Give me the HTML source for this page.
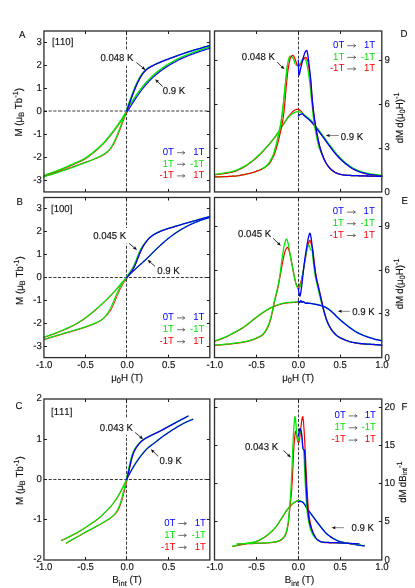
<!DOCTYPE html>
<html><head><meta charset="utf-8"><title>Magnetisation figure</title>
<style>
html,body{margin:0;padding:0;background:#fff;}
body{width:415px;height:588px;overflow:hidden;font-family:"Liberation Sans",sans-serif;}
svg{display:block;font-family:"Liberation Sans",sans-serif;text-rendering:geometricPrecision;will-change:transform;font-kerning:none;}
</style></head><body>
<svg width="415" height="588" viewBox="0 0 415 588">
<rect width="415" height="588" fill="#fff"/>
<path d="M126.50,32.10 V191.95" stroke="#383838" stroke-width="1" stroke-dasharray="3.05,1.67" fill="none"/>
<path d="M43.95,111.00 H209.85" stroke="#383838" stroke-width="1" stroke-dasharray="3.05,1.67" fill="none"/>
<rect x="99.50" y="49.80" width="37.00" height="15.7" fill="#fff"/>
<path d="M43.95,176.20 L44.77,175.89 L45.70,175.58 L46.64,175.27 L47.57,174.96 L48.50,174.65 L49.44,174.33 L50.37,174.01 L51.30,173.68 L52.24,173.36 L53.17,173.03 L54.10,172.69 L55.04,172.36 L55.97,172.02 L56.91,171.67 L57.84,171.32 L58.78,170.97 L59.71,170.62 L60.64,170.25 L61.58,169.88 L62.52,169.51 L63.45,169.13 L64.39,168.74 L65.32,168.34 L66.26,167.93 L67.19,167.52 L68.13,167.10 L69.06,166.68 L70.00,166.26 L70.93,165.83 L71.86,165.40 L72.79,164.97 L73.72,164.55 L74.65,164.13 L75.58,163.71 L76.51,163.30 L77.44,162.89 L78.37,162.49 L79.31,162.08 L80.24,161.66 L81.18,161.24 L82.13,160.79 L83.07,160.32 L84.02,159.82 L84.97,159.27 L85.91,158.69 L86.86,158.07 L87.80,157.41 L88.74,156.72 L89.68,156.01 L90.62,155.29 L91.55,154.56 L92.49,153.82 L93.42,153.08 L94.36,152.32 L95.29,151.55 L96.23,150.77 L97.17,149.97 L97.96,149.28 L98.10,149.15 L98.29,148.99 L98.62,148.70 L98.95,148.40 L99.04,148.32 L99.28,148.11 L99.60,147.81 L99.93,147.51 L99.98,147.46 L100.26,147.20 L100.59,146.89 L100.92,146.58 L101.25,146.27 L101.57,145.95 L101.85,145.68 L101.90,145.63 L102.23,145.31 L102.56,144.98 L102.79,144.74 L102.89,144.65 L103.22,144.31 L103.54,143.98 L103.73,143.78 L103.87,143.63 L104.20,143.29 L104.53,142.94 L104.67,142.79 L104.86,142.59 L105.19,142.24 L105.51,141.88 L105.61,141.77 L105.84,141.51 L106.17,141.15 L106.50,140.78 L106.55,140.72 L106.83,140.40 L107.15,140.03 L107.48,139.65 L107.48,139.65 L107.81,139.26 L108.14,138.87 L108.42,138.54 L108.47,138.48 L108.80,138.09 L109.12,137.69 L109.36,137.40 L109.45,137.29 L109.78,136.88 L110.11,136.47 L110.29,136.24 L110.43,136.06 L110.76,135.64 L111.09,135.23 L111.23,135.05 L111.42,134.81 L111.74,134.39 L112.07,133.96 L112.16,133.84 L112.40,133.54 L112.72,133.11 L113.05,132.68 L113.10,132.62 L113.38,132.25 L113.70,131.82 L114.03,131.39 L114.03,131.38 L114.36,130.95 L114.68,130.51 L114.96,130.14 L115.01,130.08 L115.34,129.64 L115.67,129.20 L115.90,128.88 L115.99,128.75 L116.32,128.31 L116.65,127.86 L116.83,127.60 L116.97,127.41 L117.30,126.95 L117.63,126.50 L117.77,126.30 L117.96,126.04 L118.28,125.57 L118.61,125.10 L118.70,124.97 L118.94,124.63 L119.27,124.16 L119.59,123.68 L119.64,123.61 L119.92,123.19 L120.25,122.71 L120.58,122.22 L120.58,122.21 L120.90,121.72 L121.23,121.22 L121.51,120.79 L121.56,120.72 L121.88,120.21 L122.21,119.70 L122.45,119.34 L122.54,119.19 L122.87,118.68 L123.19,118.16 L123.38,117.86 L123.52,117.64 L123.85,117.11 L124.17,116.59 L124.31,116.36 L124.50,116.06 L124.83,115.53 L125.15,115.00 L125.25,114.85 L125.48,114.46 L125.81,113.93 L126.13,113.40 L126.18,113.32 L126.46,112.86 L126.79,112.32 L127.11,111.79" fill="none" stroke="#ff0000" stroke-width="1.0" stroke-linejoin="round" stroke-linecap="round"/>
<path d="M43.95,175.44 L45.45,174.82 L47.31,174.20 L49.18,173.57 L51.04,172.93 L52.90,172.27 L54.77,171.60 L56.63,170.92 L58.49,170.22 L60.35,169.51 L62.22,168.77 L64.08,168.00 L65.94,167.20 L67.80,166.37 L69.66,165.53 L71.53,164.67 L73.39,163.82 L75.26,162.98 L77.12,162.16 L78.99,161.35 L80.85,160.51 L82.70,159.61 L84.56,158.58 L86.41,157.40 L88.27,156.08 L90.13,154.66 L91.99,153.20 L93.85,151.70 L95.71,150.16 L97.44,148.68 L97.57,148.55 L98.09,148.10 L98.74,147.51 L99.39,146.92 L99.43,146.87 L100.04,146.31 L100.69,145.69 L101.30,145.10 L101.34,145.06 L101.99,144.41 L102.64,143.75 L103.16,143.23 L103.29,143.08 L103.95,142.40 L104.60,141.69 L105.02,141.24 L105.25,140.98 L105.90,140.25 L106.55,139.50 L106.88,139.13 L107.20,138.75 L107.85,137.97 L108.50,137.18 L108.74,136.90 L109.15,136.38 L109.81,135.56 L110.46,134.73 L110.60,134.56 L111.11,133.90 L111.76,133.05 L112.41,132.20 L112.46,132.13 L113.07,131.34 L113.72,130.47 L114.32,129.66 L114.37,129.60 L115.02,128.72 L115.67,127.83 L116.19,127.13 L116.33,126.94 L116.98,126.03 L117.63,125.11 L118.05,124.51 L118.28,124.18 L118.93,123.23 L119.58,122.26 L119.91,121.77 L120.23,121.28 L120.89,120.28 L121.54,119.27 L121.77,118.91 L122.19,118.25 L122.84,117.21 L123.49,116.16 L123.63,115.94 L124.15,115.11 L124.80,114.05 L125.45,112.98 L125.50,112.90 L126.10,111.91 L126.41,110.63 L127.02,109.63 L127.07,109.55 L127.72,108.48 L128.37,107.41 L128.88,106.57 L129.02,106.35 L129.68,105.29 L130.33,104.23 L130.75,103.56 L130.99,103.19 L131.64,102.15 L132.29,101.13 L132.62,100.62 L132.95,100.11 L133.60,99.11 L134.25,98.12 L134.49,97.76 L134.91,97.13 L135.56,96.17 L136.22,95.21 L136.36,95.01 L136.87,94.27 L137.53,93.34 L138.18,92.43 L138.23,92.37 L138.84,91.53 L139.49,90.65 L140.10,89.84 L140.15,89.77 L140.80,88.92 L141.46,88.08 L141.97,87.43 L142.12,87.25 L142.77,86.43 L143.43,85.63 L143.85,85.13 L144.08,84.85 L144.74,84.08 L145.39,83.32 L145.72,82.94 L146.05,82.57 L146.71,81.84 L147.36,81.13 L147.60,80.87 L148.02,80.42 L148.68,79.74 L149.33,79.06 L149.48,78.92 L149.99,78.40 L150.65,77.75 L151.30,77.12 L151.35,77.08 L151.96,76.50 L152.62,75.90 L153.23,75.35 L153.28,75.30 L153.93,74.72 L154.59,74.15 L155.10,73.71 L155.25,73.59 L156.98,72.16 L158.86,70.68 L160.73,69.28 L162.61,67.94 L164.48,66.66 L166.35,65.43 L168.22,64.25 L170.10,63.11 L171.97,62.01 L173.85,60.96 L175.72,59.96 L177.59,59.01 L179.47,58.11 L181.34,57.24 L183.21,56.41 L185.08,55.60 L186.96,54.83 L188.83,54.08 L190.70,53.36 L192.57,52.66 L194.44,51.99 L196.30,51.33 L198.17,50.69 L200.04,50.05 L201.91,49.43 L203.77,48.83 L205.64,48.23 L207.51,47.65 L209.37,47.07" fill="none" stroke="#00e600" stroke-width="1.45" stroke-linejoin="round" stroke-linecap="round"/>
<path d="M127.24,111.87 L127.57,111.33 L127.89,110.79 L128.17,110.33 L128.22,110.26 L128.55,109.72 L128.87,109.18 L129.10,108.80 L129.20,108.65 L129.52,108.12 L129.85,107.58 L130.04,107.28 L130.17,107.05 L130.50,106.52 L130.83,106.00 L130.97,105.77 L131.15,105.47 L131.48,104.95 L131.80,104.42 L131.90,104.28 L132.13,103.91 L132.45,103.39 L132.78,102.87 L132.83,102.80 L133.10,102.36 L133.43,101.85 L133.76,101.35 L133.75,101.35 L134.08,100.84 L134.41,100.34 L134.68,99.92 L134.73,99.85 L135.06,99.35 L135.38,98.86 L135.61,98.51 L135.70,98.37 L136.03,97.89 L136.36,97.41 L136.54,97.13 L136.68,96.93 L137.00,96.45 L137.33,95.98 L137.47,95.78 L137.65,95.51 L137.98,95.05 L138.30,94.58 L138.40,94.45 L138.63,94.13 L138.95,93.67 L139.28,93.22 L139.32,93.16 L139.60,92.78 L139.93,92.33 L140.25,91.89 L140.25,91.89 L140.58,91.45 L140.90,91.02 L141.18,90.65 L141.22,90.59 L141.55,90.17 L141.87,89.74 L142.11,89.44 L142.20,89.33 L142.52,88.91 L142.85,88.50 L143.03,88.26 L143.17,88.09 L143.49,87.69 L143.82,87.28 L143.96,87.11 L144.14,86.89 L144.47,86.49 L144.79,86.10 L144.88,85.99 L145.11,85.72 L145.44,85.33 L145.76,84.95 L145.81,84.90 L146.09,84.58 L146.41,84.21 L146.74,83.84 L146.73,83.84 L147.06,83.47 L147.38,83.11 L147.66,82.80 L147.71,82.75 L148.03,82.40 L148.35,82.04 L148.59,81.79 L148.68,81.70 L149.00,81.35 L149.33,81.01 L149.51,80.82 L149.65,80.67 L149.97,80.34 L150.30,80.01 L150.43,79.87 L150.62,79.68 L150.94,79.36 L151.27,79.04 L151.36,78.95 L151.59,78.72 L151.91,78.41 L152.24,78.10 L152.28,78.06 L152.56,77.79 L152.88,77.49 L153.21,77.19 L153.20,77.19 L153.53,76.89 L153.85,76.60 L154.13,76.35 L154.17,76.31 L154.50,76.02 L154.82,75.74 L155.05,75.53 L155.14,75.46 L155.47,75.18 L155.79,74.90 L155.98,74.74 L156.11,74.63 L156.90,73.97 L157.83,73.21 L158.75,72.47 L159.68,71.75 L160.60,71.05 L161.53,70.37 L162.45,69.70 L163.38,69.05 L164.30,68.41 L165.23,67.78 L166.16,67.17 L167.08,66.57 L168.01,65.98 L168.94,65.40 L169.86,64.83 L170.79,64.27 L171.72,63.72 L172.64,63.18 L173.57,62.66 L174.49,62.15 L175.42,61.65 L176.34,61.16 L177.27,60.69 L178.19,60.22 L179.12,59.77 L180.05,59.33 L180.97,58.89 L181.90,58.47 L182.83,58.05 L183.75,57.64 L184.68,57.24 L185.61,56.85 L186.54,56.46 L187.46,56.08 L188.39,55.71 L189.32,55.34 L190.25,54.98 L191.18,54.62 L192.10,54.27 L193.03,53.93 L193.96,53.59 L194.89,53.26 L195.82,52.93 L196.75,52.60 L197.68,52.28 L198.61,51.96 L199.54,51.65 L200.47,51.33 L201.40,51.02 L202.33,50.72 L203.26,50.41 L204.19,50.11 L205.12,49.81 L206.05,49.52 L206.98,49.23 L207.91,48.94 L208.84,48.65 L209.77,48.36" fill="none" stroke="#0000ff" stroke-width="1.15" stroke-linejoin="round" stroke-linecap="round"/>
<path d="M43.95,176.43 L44.97,175.99 L46.46,175.56 L47.95,175.12 L49.44,174.67 L50.93,174.21 L52.42,173.75 L53.91,173.29 L55.40,172.81 L56.89,172.34 L58.38,171.85 L59.87,171.36 L61.35,170.87 L62.84,170.37 L64.33,169.86 L65.82,169.34 L67.31,168.82 L68.80,168.29 L70.29,167.75 L71.78,167.20 L73.27,166.65 L74.76,166.09 L76.25,165.53 L77.74,164.97 L79.23,164.41 L80.72,163.85 L82.21,163.29 L83.70,162.73 L85.20,162.19 L86.72,161.72 L88.25,161.24 L89.78,160.74 L91.31,160.22 L92.84,159.69 L94.37,159.13 L95.90,158.54 L97.44,157.94 L97.68,157.84 L98.36,157.56 L98.98,157.30 L99.03,157.27 L99.71,156.98 L100.38,156.68 L100.53,156.62 L101.06,156.38 L101.74,156.06 L102.08,155.89 L102.41,155.70 L103.06,155.32 L103.58,155.02 L103.73,154.93 L104.39,154.52 L105.04,154.09 L105.10,154.06 L105.71,153.64 L106.37,153.16 L106.62,152.97 L107.05,152.63 L107.71,152.08 L108.14,151.69 L108.39,151.46 L109.06,150.79 L109.67,150.12 L109.73,150.05 L110.39,149.26 L111.06,148.39 L111.21,148.18 L111.73,147.43 L112.39,146.40 L112.72,145.85 L113.05,145.28 L113.71,144.10 L114.23,143.12 L114.37,142.84 L115.03,141.52 L115.68,140.13 L115.73,140.02 L116.34,138.67 L116.99,137.16 L117.23,136.60 L117.65,135.59 L118.30,133.97 L118.72,132.90 L118.96,132.30 L119.61,130.60 L120.22,128.99 L120.26,128.87 L120.92,127.13 L121.57,125.39 L121.71,125.02 L122.22,123.66 L122.87,121.95 L123.20,121.11 L123.52,120.27 L124.18,118.61 L124.69,117.31 L124.83,116.95 L125.48,115.30 L126.13,113.64 L126.18,113.52 L126.79,111.95 L127.25,110.17 L127.49,109.54 L127.91,108.41 L128.56,106.62 L128.98,105.45 L129.21,104.80 L129.87,102.96 L130.47,101.25 L130.52,101.12 L131.17,99.28 L131.82,97.46 L131.96,97.08 L132.47,95.68 L133.13,93.93 L133.45,93.07 L133.78,92.23 L134.43,90.58 L134.94,89.32 L135.08,88.98 L135.73,87.43 L136.38,85.93 L136.43,85.83 L137.03,84.48 L137.68,83.08 L137.91,82.59 L138.33,81.74 L138.98,80.44 L139.40,79.64 L139.63,79.20 L140.28,78.02 L140.88,76.98 L140.93,76.91 L141.57,75.85 L142.22,74.86 L142.36,74.67 L142.87,73.95 L143.51,73.09 L143.83,72.70 L144.15,72.31 L144.80,71.59 L145.31,71.06 L145.44,70.93 L146.08,70.32 L146.73,69.76 L146.76,69.73 L147.36,69.25 L148.01,68.77 L148.24,68.61 L148.65,68.32 L149.30,67.90 L149.71,67.64 L149.94,67.50 L150.59,67.11 L151.19,66.77 L151.23,66.74 L151.89,66.39 L152.53,66.04 L152.67,65.97 L153.18,65.70 L153.83,65.37 L154.16,65.21 L154.48,65.05 L155.13,64.74 L155.64,64.50 L155.78,64.43 L157.13,63.82 L158.61,63.16 L160.10,62.52 L161.59,61.90 L163.08,61.30 L164.57,60.72 L166.06,60.14 L167.55,59.58 L169.04,59.02 L170.53,58.46 L172.02,57.92 L173.51,57.37 L175.00,56.83 L176.49,56.30" fill="none" stroke="#ff0000" stroke-width="1.0" stroke-linejoin="round" stroke-linecap="round"/>
<path d="M43.95,176.86 L45.47,176.32 L47.34,175.77 L49.20,175.21 L51.06,174.64 L52.93,174.07 L54.79,173.48 L56.65,172.88 L58.52,172.28 L60.38,171.67 L62.24,171.04 L64.11,170.41 L65.97,169.77 L67.83,169.11 L69.70,168.44 L71.56,167.76 L73.42,167.07 L75.29,166.37 L77.15,165.67 L79.01,164.97 L80.88,164.27 L82.74,163.57 L84.61,162.87 L86.47,162.17 L88.33,161.44 L90.19,160.70 L92.06,159.93 L93.92,159.12 L95.78,158.28 L97.50,157.47 L97.64,157.40 L98.15,157.15 L98.81,156.83 L99.46,156.50 L99.50,156.47 L100.11,156.16 L100.76,155.81 L101.36,155.48 L101.41,155.46 L102.06,155.09 L102.71,154.72 L103.22,154.42 L103.36,154.33 L104.01,153.93 L104.66,153.51 L105.08,153.23 L105.31,153.07 L105.96,152.59 L106.61,152.09 L106.93,151.82 L107.25,151.55 L107.90,150.95 L108.55,150.31 L108.78,150.06 L109.20,149.60 L109.85,148.82 L110.50,147.97 L110.63,147.78 L111.14,147.04 L111.79,146.03 L112.44,144.94 L112.49,144.86 L113.09,143.77 L113.74,142.53 L114.35,141.31 L114.39,141.22 L115.05,139.83 L115.70,138.39 L116.21,137.21 L116.35,136.89 L117.00,135.32 L117.65,133.71 L118.07,132.65 L118.30,132.05 L118.96,130.35 L119.61,128.62 L119.94,127.75 L120.26,126.88 L120.91,125.14 L121.57,123.41 L121.80,122.80 L122.22,121.70 L122.87,120.02 L123.52,118.35 L123.66,117.99 L124.18,116.70 L124.83,115.05 L125.48,113.39 L125.53,113.27 L126.13,111.70 L126.41,109.85 L127.02,108.22 L127.06,108.10 L127.71,106.31 L128.37,104.50 L128.88,103.06 L129.02,102.66 L129.67,100.82 L130.32,98.98 L130.74,97.81 L130.98,97.16 L131.63,95.37 L132.28,93.61 L132.61,92.75 L132.94,91.90 L133.59,90.24 L134.25,88.64 L134.48,88.07 L134.90,87.07 L135.56,85.57 L136.21,84.11 L136.35,83.80 L136.87,82.70 L137.52,81.34 L138.18,80.03 L138.23,79.93 L138.84,78.78 L139.50,77.58 L140.10,76.53 L140.16,76.44 L140.81,75.37 L141.48,74.36 L141.99,73.62 L142.14,73.41 L142.80,72.54 L143.47,71.73 L143.90,71.24 L144.14,70.97 L144.82,70.30 L145.51,69.70 L145.86,69.41 L146.21,69.14 L146.89,68.64 L147.57,68.17 L147.82,68.01 L148.26,67.74 L148.94,67.34 L149.61,66.96 L149.76,66.88 L150.29,66.60 L150.96,66.26 L151.64,65.93 L151.69,65.91 L152.31,65.61 L152.98,65.30 L153.60,65.03 L153.65,65.01 L154.32,64.72 L154.98,64.42 L155.49,64.18 L155.63,64.12 L157.36,63.33 L159.22,62.51 L161.08,61.73 L162.95,60.98 L164.81,60.25 L166.68,59.53 L168.54,58.83 L170.41,58.14 L172.27,57.45 L174.13,56.77 L176.00,56.10 L177.86,55.43 L179.73,54.76 L181.59,54.10 L183.45,53.45 L185.32,52.81 L187.18,52.18 L189.05,51.58 L190.91,50.99 L192.77,50.41 L194.64,49.85 L196.50,49.30 L198.37,48.75 L200.23,48.21 L202.09,47.68 L203.96,47.15 L205.82,46.63 L207.69,46.11 L209.55,45.60" fill="none" stroke="#00e600" stroke-width="1.2" stroke-linejoin="round" stroke-linecap="round"/>
<path d="M126.69,110.94 L127.02,110.08 L127.35,109.20 L127.63,108.45 L127.67,108.32 L128.00,107.43 L128.33,106.53 L128.56,105.89 L128.65,105.63 L128.98,104.72 L129.30,103.80 L129.49,103.27 L129.63,102.88 L129.96,101.96 L130.28,101.03 L130.42,100.64 L130.61,100.11 L130.93,99.20 L131.26,98.28 L131.35,98.03 L131.59,97.38 L131.91,96.48 L132.24,95.59 L132.29,95.46 L132.57,94.71 L132.89,93.84 L133.22,92.98 L133.22,92.99 L133.54,92.14 L133.87,91.31 L134.15,90.60 L134.20,90.49 L134.52,89.68 L134.85,88.88 L135.08,88.32 L135.17,88.10 L135.50,87.33 L135.83,86.57 L136.01,86.15 L136.15,85.83 L136.48,85.10 L136.80,84.38 L136.94,84.07 L137.13,83.67 L137.46,82.97 L137.78,82.29 L137.87,82.10 L138.11,81.62 L138.43,80.97 L138.76,80.33 L138.81,80.24 L139.08,79.70 L139.41,79.08 L139.74,78.48 L139.74,78.48 L140.06,77.90 L140.39,77.33 L140.67,76.86 L140.71,76.78 L141.04,76.24 L141.36,75.72 L141.60,75.36 L141.69,75.21 L142.01,74.73 L142.34,74.25 L142.53,73.99 L142.66,73.80 L142.99,73.36 L143.32,72.94 L143.45,72.77 L143.64,72.54 L143.97,72.15 L144.29,71.78 L144.38,71.67 L144.61,71.42 L144.94,71.08 L145.26,70.75 L145.31,70.70 L145.59,70.44 L145.91,70.14 L146.24,69.85 L146.24,69.85 L146.56,69.57 L146.89,69.31 L147.17,69.09 L147.21,69.05 L147.54,68.81 L147.86,68.57 L148.09,68.40 L148.19,68.34 L148.51,68.12 L148.84,67.90 L149.02,67.78 L149.16,67.69 L149.49,67.48 L149.81,67.28 L149.95,67.20 L150.14,67.09 L150.46,66.90 L150.79,66.71 L150.88,66.66 L151.11,66.53 L151.44,66.34 L151.77,66.17 L151.81,66.14 L152.09,65.99 L152.42,65.82 L152.74,65.65 L152.74,65.65 L153.07,65.48 L153.39,65.31 L153.67,65.17 L153.72,65.15 L154.05,64.99 L154.37,64.83 L154.60,64.72 L154.70,64.67 L155.02,64.52 L155.35,64.36 L155.54,64.27 L155.67,64.21 L156.47,63.84 L157.40,63.42 L158.33,63.01 L159.26,62.61 L160.19,62.21 L161.12,61.83 L162.05,61.45 L162.99,61.07 L163.92,60.70 L164.85,60.34 L165.78,59.98 L166.71,59.62 L167.64,59.27 L168.58,58.92 L169.51,58.57 L170.44,58.23 L171.37,57.89 L172.30,57.55 L173.24,57.21 L174.17,56.87 L175.10,56.53 L176.03,56.20 L176.96,55.86 L177.90,55.52 L178.83,55.19 L179.76,54.86 L180.69,54.52 L181.62,54.19 L182.55,53.87 L183.49,53.54 L184.42,53.22 L185.35,52.90 L186.28,52.59 L187.21,52.28 L188.14,51.97 L189.08,51.67 L190.01,51.38 L190.94,51.08 L191.87,50.80 L192.80,50.51 L193.73,50.23 L194.67,49.95 L195.60,49.67 L196.53,49.39 L197.46,49.12 L198.39,48.85 L199.33,48.58 L200.26,48.31 L201.19,48.04 L202.12,47.77 L203.05,47.51 L203.98,47.24 L204.92,46.98 L205.85,46.72 L206.78,46.46 L207.71,46.21 L208.64,45.95 L209.58,45.70" fill="none" stroke="#0000ff" stroke-width="1.3" stroke-linejoin="round" stroke-linecap="round"/>
<path d="M126.50,198.60 V357.60" stroke="#383838" stroke-width="1" stroke-dasharray="3.05,1.67" fill="none"/>
<path d="M43.95,277.50 H209.85" stroke="#383838" stroke-width="1" stroke-dasharray="3.05,1.67" fill="none"/>
<rect x="92.20" y="227.90" width="37.00" height="15.7" fill="#fff"/>
<path d="M43.95,337.53 L44.67,337.24 L45.61,336.94 L46.54,336.64 L47.47,336.34 L48.41,336.03 L49.34,335.71 L50.27,335.39 L51.21,335.06 L52.14,334.73 L53.07,334.40 L54.01,334.06 L54.94,333.71 L55.87,333.35 L56.81,332.99 L57.74,332.63 L58.67,332.25 L59.61,331.87 L60.54,331.49 L61.47,331.10 L62.41,330.70 L63.34,330.31 L64.27,329.91 L65.21,329.50 L66.14,329.10 L67.07,328.69 L68.01,328.27 L68.94,327.85 L69.87,327.42 L70.81,326.98 L71.74,326.53 L72.68,326.07 L73.61,325.59 L74.55,325.10 L75.48,324.60 L76.42,324.08 L77.35,323.55 L78.29,323.00 L79.22,322.43 L80.16,321.85 L81.09,321.26 L82.03,320.65 L82.96,320.03 L83.90,319.39 L84.83,318.74 L85.77,318.07 L86.70,317.38 L87.64,316.67 L88.57,315.95 L89.51,315.21 L90.44,314.46 L91.37,313.71 L92.31,312.94 L93.24,312.17 L94.17,311.39 L95.11,310.60 L96.04,309.81 L96.97,309.00 L97.76,308.31 L97.91,308.19 L98.09,308.02 L98.42,307.74 L98.75,307.45 L98.84,307.36 L99.07,307.15 L99.40,306.86 L99.73,306.57 L99.77,306.53 L100.05,306.27 L100.38,305.98 L100.71,305.68 L101.03,305.38 L101.36,305.08 L101.64,304.82 L101.69,304.78 L102.01,304.48 L102.34,304.17 L102.57,303.95 L102.67,303.87 L102.99,303.56 L103.32,303.25 L103.51,303.08 L103.65,302.95 L103.97,302.64 L104.30,302.32 L104.44,302.19 L104.63,302.01 L104.95,301.70 L105.28,301.38 L105.37,301.29 L105.61,301.07 L105.93,300.75 L106.26,300.43 L106.31,300.39 L106.59,300.11 L106.91,299.79 L107.24,299.47 L107.24,299.47 L107.57,299.14 L107.89,298.82 L108.17,298.54 L108.22,298.49 L108.55,298.16 L108.87,297.84 L109.11,297.60 L109.20,297.50 L109.53,297.17 L109.85,296.84 L110.04,296.65 L110.18,296.50 L110.51,296.17 L110.83,295.83 L110.97,295.68 L111.16,295.49 L111.49,295.15 L111.81,294.80 L111.91,294.70 L112.14,294.46 L112.47,294.11 L112.79,293.76 L112.84,293.71 L113.12,293.41 L113.45,293.06 L113.77,292.71 L113.77,292.71 L114.10,292.35 L114.43,291.99 L114.71,291.68 L114.75,291.63 L115.08,291.26 L115.41,290.89 L115.64,290.63 L115.73,290.52 L116.06,290.15 L116.39,289.78 L116.57,289.56 L116.71,289.40 L117.04,289.02 L117.37,288.64 L117.51,288.47 L117.69,288.25 L118.02,287.87 L118.35,287.49 L118.44,287.38 L118.67,287.10 L119.00,286.71 L119.33,286.33 L119.37,286.27 L119.65,285.94 L119.98,285.56 L120.30,285.17 L120.30,285.17 L120.63,284.79 L120.96,284.41 L121.24,284.08 L121.28,284.03 L121.61,283.65 L121.93,283.27 L122.17,283.00 L122.26,282.89 L122.59,282.51 L122.91,282.14 L123.10,281.92 L123.24,281.77 L123.56,281.39 L123.89,281.02 L124.03,280.86 L124.21,280.65 L124.54,280.29 L124.87,279.92 L124.96,279.82 L125.19,279.56 L125.52,279.20 L125.84,278.84 L125.89,278.79 L126.17,278.49 L126.49,278.14 L126.82,277.79" fill="none" stroke="#ff0000" stroke-width="1.0" stroke-linejoin="round" stroke-linecap="round"/>
<path d="M43.95,337.05 L45.45,336.47 L47.32,335.86 L49.18,335.24 L51.04,334.59 L52.90,333.93 L54.76,333.24 L56.63,332.53 L58.49,331.79 L60.35,331.03 L62.21,330.24 L64.08,329.45 L65.94,328.64 L67.80,327.81 L69.66,326.96 L71.52,326.08 L73.38,325.15 L75.24,324.16 L77.10,323.11 L78.96,322.00 L80.82,320.84 L82.68,319.61 L84.54,318.33 L86.40,316.98 L88.26,315.55 L90.13,314.07 L91.99,312.55 L93.85,311.01 L95.71,309.43 L97.44,307.93 L97.58,307.81 L98.09,307.36 L98.74,306.78 L99.39,306.20 L99.44,306.15 L100.04,305.61 L100.69,305.01 L101.30,304.45 L101.35,304.41 L102.00,303.81 L102.65,303.20 L103.16,302.71 L103.30,302.58 L103.95,301.96 L104.61,301.34 L105.02,300.93 L105.26,300.71 L105.91,300.07 L106.56,299.44 L106.89,299.11 L107.21,298.79 L107.86,298.14 L108.52,297.48 L108.75,297.25 L109.17,296.82 L109.82,296.15 L110.47,295.48 L110.61,295.34 L111.12,294.80 L111.78,294.11 L112.43,293.42 L112.47,293.37 L113.08,292.72 L113.73,292.01 L114.34,291.34 L114.38,291.29 L115.03,290.56 L115.68,289.82 L116.20,289.23 L116.34,289.07 L116.99,288.31 L117.64,287.55 L118.06,287.05 L118.29,286.78 L118.94,286.01 L119.60,285.23 L119.92,284.85 L120.25,284.47 L120.90,283.70 L121.56,282.94 L121.79,282.67 L122.21,282.19 L122.86,281.44 L123.51,280.69 L123.65,280.53 L124.17,279.95 L124.82,279.22 L125.47,278.51 L125.52,278.45 L126.13,277.80 L126.85,277.18 L127.46,276.55 L127.51,276.50 L128.16,275.83 L128.81,275.17 L129.33,274.66 L129.47,274.52 L130.12,273.88 L130.77,273.25 L131.19,272.85 L131.42,272.62 L132.08,272.00 L132.73,271.38 L133.06,271.08 L133.38,270.77 L134.03,270.16 L134.69,269.55 L134.92,269.33 L135.34,268.94 L135.99,268.33 L136.64,267.73 L136.78,267.60 L137.30,267.13 L137.95,266.54 L138.60,265.95 L138.65,265.91 L139.26,265.36 L139.91,264.78 L140.51,264.24 L140.56,264.20 L141.21,263.61 L141.87,263.03 L142.38,262.58 L142.52,262.45 L143.17,261.87 L143.82,261.28 L144.24,260.89 L144.47,260.68 L145.13,260.08 L145.78,259.47 L146.10,259.17 L146.43,258.86 L147.08,258.23 L147.73,257.60 L147.97,257.37 L148.39,256.96 L149.04,256.31 L149.69,255.66 L149.83,255.52 L150.34,255.01 L150.99,254.35 L151.65,253.69 L151.69,253.64 L152.30,253.03 L152.95,252.37 L153.56,251.76 L153.60,251.71 L154.26,251.07 L154.91,250.42 L155.42,249.92 L155.56,249.78 L157.29,248.13 L159.15,246.37 L161.02,244.64 L162.88,242.95 L164.75,241.31 L166.61,239.74 L168.48,238.24 L170.34,236.78 L172.21,235.37 L174.08,234.02 L175.94,232.73 L177.81,231.50 L179.67,230.32 L181.54,229.19 L183.40,228.11 L185.27,227.08 L187.14,226.10 L189.00,225.17 L190.87,224.28 L192.73,223.43 L194.60,222.62 L196.46,221.87 L198.33,221.15 L200.20,220.47 L202.06,219.81 L203.93,219.19 L205.79,218.60 L207.66,218.05 L209.52,217.53" fill="none" stroke="#00e600" stroke-width="1.15" stroke-linejoin="round" stroke-linecap="round"/>
<path d="M126.60,277.59 L126.93,277.24 L127.25,276.90 L127.53,276.61 L127.58,276.57 L127.90,276.23 L128.23,275.90 L128.46,275.66 L128.56,275.57 L128.88,275.24 L129.21,274.92 L129.40,274.73 L129.54,274.60 L129.86,274.28 L130.19,273.96 L130.33,273.82 L130.51,273.64 L130.84,273.32 L131.17,273.01 L131.26,272.92 L131.49,272.70 L131.82,272.39 L132.15,272.08 L132.19,272.03 L132.47,271.77 L132.80,271.46 L133.12,271.15 L133.12,271.15 L133.45,270.84 L133.78,270.54 L134.06,270.27 L134.10,270.23 L134.43,269.93 L134.76,269.62 L134.99,269.40 L135.08,269.32 L135.41,269.01 L135.73,268.71 L135.92,268.54 L136.06,268.41 L136.39,268.11 L136.71,267.81 L136.85,267.68 L137.04,267.51 L137.36,267.21 L137.69,266.91 L137.78,266.82 L138.02,266.61 L138.34,266.32 L138.67,266.02 L138.72,265.98 L139.00,265.73 L139.32,265.44 L139.65,265.14 L139.65,265.14 L139.97,264.85 L140.30,264.56 L140.58,264.31 L140.63,264.27 L140.95,263.98 L141.28,263.69 L141.51,263.48 L141.61,263.40 L141.93,263.11 L142.26,262.82 L142.44,262.65 L142.58,262.53 L142.91,262.23 L143.24,261.94 L143.38,261.81 L143.56,261.65 L143.89,261.35 L144.22,261.05 L144.31,260.97 L144.54,260.76 L144.87,260.46 L145.19,260.15 L145.24,260.11 L145.52,259.85 L145.85,259.55 L146.17,259.24 L146.17,259.24 L146.50,258.93 L146.82,258.62 L147.10,258.35 L147.15,258.31 L147.48,257.99 L147.80,257.67 L148.04,257.44 L148.13,257.35 L148.46,257.03 L148.78,256.71 L148.97,256.52 L149.11,256.39 L149.43,256.06 L149.76,255.73 L149.90,255.59 L150.09,255.40 L150.41,255.08 L150.74,254.75 L150.83,254.65 L151.07,254.42 L151.39,254.09 L151.72,253.76 L151.76,253.71 L152.04,253.43 L152.37,253.10 L152.70,252.77 L152.70,252.77 L153.02,252.44 L153.35,252.11 L153.63,251.83 L153.68,251.79 L154.00,251.46 L154.33,251.14 L154.56,250.91 L154.65,250.81 L154.98,250.49 L155.31,250.17 L155.49,249.99 L155.63,249.86 L156.42,249.09 L157.36,248.20 L158.29,247.32 L159.22,246.44 L160.15,245.57 L161.08,244.71 L162.02,243.86 L162.95,243.02 L163.88,242.20 L164.81,241.39 L165.74,240.60 L166.68,239.82 L167.61,239.06 L168.54,238.31 L169.47,237.58 L170.41,236.86 L171.34,236.15 L172.27,235.45 L173.20,234.77 L174.13,234.10 L175.07,233.45 L176.00,232.81 L176.93,232.19 L177.86,231.58 L178.79,230.98 L179.73,230.40 L180.66,229.83 L181.59,229.27 L182.52,228.73 L183.45,228.19 L184.39,227.67 L185.32,227.17 L186.25,226.67 L187.18,226.19 L188.11,225.72 L189.05,225.26 L189.98,224.81 L190.91,224.37 L191.84,223.94 L192.77,223.52 L193.71,223.11 L194.64,222.72 L195.57,222.33 L196.50,221.96 L197.43,221.60 L198.37,221.25 L199.30,220.90 L200.23,220.56 L201.16,220.23 L202.09,219.91 L203.03,219.59 L203.96,219.28 L204.89,218.99 L205.82,218.70 L206.75,218.42 L207.69,218.15 L208.62,217.88 L209.55,217.63" fill="none" stroke="#0000ff" stroke-width="1.15" stroke-linejoin="round" stroke-linecap="round"/>
<path d="M43.95,339.82 L45.23,339.36 L46.72,338.91 L48.21,338.46 L49.70,338.01 L51.19,337.55 L52.68,337.10 L54.18,336.65 L55.67,336.20 L57.16,335.75 L58.65,335.30 L60.14,334.85 L61.63,334.40 L63.12,333.95 L64.61,333.50 L66.10,333.06 L67.59,332.61 L69.08,332.18 L70.57,331.75 L72.07,331.33 L73.56,330.91 L75.05,330.48 L76.54,330.06 L78.03,329.62 L79.53,329.17 L81.02,328.70 L82.51,328.22 L84.01,327.73 L85.50,327.23 L87.00,326.71 L88.49,326.18 L89.98,325.63 L91.48,325.06 L92.97,324.48 L94.47,323.86 L95.96,323.22 L97.46,322.54 L97.70,322.42 L98.36,322.09 L98.97,321.78 L99.02,321.75 L99.67,321.38 L100.33,320.99 L100.48,320.90 L101.00,320.57 L101.65,320.11 L101.99,319.87 L102.32,319.61 L102.98,319.08 L103.50,318.63 L103.65,318.50 L104.36,317.92 L105.06,317.29 L105.12,317.23 L105.78,316.60 L106.50,315.86 L106.76,315.57 L107.22,315.05 L107.94,314.20 L108.40,313.61 L108.67,313.27 L109.39,312.28 L110.05,311.30 L110.12,311.20 L110.84,310.06 L111.50,308.81 L111.65,308.52 L112.17,307.46 L112.83,306.05 L113.16,305.31 L113.49,304.55 L114.15,303.01 L114.66,301.77 L114.80,301.43 L115.46,299.83 L116.11,298.25 L116.15,298.15 L116.75,296.72 L117.40,295.23 L117.63,294.71 L118.05,293.79 L118.70,292.40 L119.11,291.53 L119.34,291.05 L119.99,289.74 L120.59,288.55 L120.64,288.47 L121.29,287.22 L121.93,286.01 L122.07,285.77 L122.58,284.86 L123.22,283.75 L123.54,283.22 L123.85,282.72 L124.49,281.75 L124.99,281.05 L125.11,280.89 L125.75,280.06 L126.39,279.28 L126.43,279.24 L127.03,278.53 L127.19,277.35 L127.43,277.07 L127.85,276.58 L128.50,275.79 L128.92,275.27 L129.16,274.97 L129.81,274.13 L130.42,273.32 L130.47,273.25 L131.13,272.34 L131.78,271.39 L131.93,271.17 L132.44,270.37 L133.10,269.30 L133.43,268.73 L133.76,268.14 L134.41,266.90 L134.93,265.84 L135.07,265.53 L135.73,264.06 L136.38,262.48 L136.43,262.36 L137.04,260.82 L137.69,259.13 L137.92,258.52 L138.34,257.43 L139.00,255.76 L139.41,254.71 L139.65,254.13 L140.30,252.57 L140.90,251.19 L140.94,251.09 L141.60,249.69 L142.24,248.37 L142.38,248.11 L142.89,247.17 L143.54,246.04 L143.86,245.51 L144.18,245.00 L144.83,244.02 L145.34,243.29 L145.48,243.10 L146.13,242.22 L146.78,241.37 L146.82,241.32 L147.42,240.57 L148.07,239.80 L148.30,239.54 L148.71,239.08 L149.36,238.39 L149.77,237.98 L150.00,237.77 L150.64,237.19 L151.24,236.69 L151.28,236.66 L151.93,236.16 L152.57,235.70 L152.70,235.61 L153.21,235.27 L153.86,234.87 L154.18,234.67 L154.50,234.48 L155.15,234.12 L155.66,233.84 L155.79,233.76 L157.14,233.07 L158.62,232.35 L160.11,231.69 L161.59,231.07 L163.07,230.49 L164.56,229.94 L166.04,229.43 L167.53,228.95 L169.01,228.50 L170.50,228.06 L171.99,227.63 L173.48,227.20 L174.98,226.76 L176.47,226.32" fill="none" stroke="#ff0000" stroke-width="1.0" stroke-linejoin="round" stroke-linecap="round"/>
<path d="M43.95,339.39 L45.47,338.82 L47.33,338.25 L49.20,337.69 L51.06,337.12 L52.93,336.56 L54.79,335.99 L56.65,335.43 L58.52,334.87 L60.38,334.30 L62.25,333.74 L64.11,333.18 L65.98,332.62 L67.84,332.07 L69.71,331.53 L71.57,331.00 L73.43,330.47 L75.30,329.95 L77.16,329.41 L79.02,328.85 L80.89,328.27 L82.75,327.67 L84.61,327.05 L86.47,326.41 L88.34,325.75 L90.20,325.07 L92.06,324.35 L93.92,323.60 L95.78,322.81 L97.50,322.02 L97.64,321.95 L98.15,321.69 L98.80,321.35 L99.45,320.99 L99.49,320.97 L100.10,320.61 L100.75,320.19 L101.35,319.78 L101.39,319.75 L102.04,319.26 L102.69,318.73 L103.20,318.29 L103.34,318.16 L103.99,317.54 L104.64,316.88 L105.05,316.42 L105.28,316.16 L105.93,315.39 L106.58,314.57 L106.91,314.14 L107.23,313.69 L107.88,312.75 L108.53,311.74 L108.76,311.37 L109.18,310.67 L109.83,309.51 L110.48,308.28 L110.62,308.01 L111.13,306.97 L111.78,305.57 L112.44,304.10 L112.48,303.99 L113.09,302.57 L113.74,300.99 L114.34,299.51 L114.39,299.40 L115.04,297.82 L115.70,296.27 L116.21,295.08 L116.35,294.76 L117.00,293.31 L117.66,291.91 L118.08,291.03 L118.31,290.55 L118.96,289.22 L119.62,287.94 L119.94,287.31 L120.27,286.68 L120.92,285.47 L121.58,284.29 L121.81,283.88 L122.23,283.16 L122.89,282.10 L123.54,281.11 L123.68,280.90 L124.20,280.19 L124.85,279.34 L125.51,278.55 L125.55,278.49 L126.16,277.78 L126.32,276.60 L126.92,275.89 L126.96,275.84 L127.61,275.06 L128.26,274.26 L128.76,273.61 L128.90,273.44 L129.54,272.57 L130.19,271.68 L130.60,271.08 L130.82,270.75 L131.47,269.76 L132.11,268.71 L132.43,268.17 L132.75,267.60 L133.39,266.38 L134.03,265.04 L134.26,264.55 L134.67,263.61 L135.32,262.05 L135.97,260.40 L136.11,260.05 L136.62,258.71 L137.27,257.01 L137.92,255.34 L137.97,255.21 L138.58,253.70 L139.24,252.12 L139.85,250.73 L139.90,250.61 L140.63,249.22 L141.37,247.93 L141.95,246.99 L142.11,246.73 L142.85,245.63 L143.58,244.62 L144.06,244.00 L144.32,243.67 L145.05,242.79 L145.77,241.95 L146.14,241.55 L146.50,241.16 L147.15,240.35 L147.80,239.57 L148.04,239.31 L148.46,238.84 L149.11,238.15 L149.76,237.51 L149.90,237.38 L150.41,236.92 L151.07,236.38 L151.72,235.88 L151.76,235.84 L152.37,235.41 L153.02,234.98 L153.63,234.60 L153.68,234.57 L154.33,234.18 L154.98,233.81 L155.49,233.53 L155.63,233.45 L157.36,232.57 L159.22,231.69 L161.08,230.89 L162.95,230.16 L164.81,229.48 L166.68,228.86 L168.54,228.28 L170.41,227.72 L172.27,227.18 L174.13,226.65 L176.00,226.10 L177.86,225.54 L179.73,224.98 L181.59,224.43 L183.45,223.87 L185.32,223.32 L187.18,222.78 L189.05,222.24 L190.91,221.72 L192.77,221.19 L194.64,220.68 L196.50,220.16 L198.37,219.64 L200.23,219.12 L202.09,218.60 L203.96,218.07 L205.82,217.54 L207.69,217.01 L209.55,216.48" fill="none" stroke="#00e600" stroke-width="1.2" stroke-linejoin="round" stroke-linecap="round"/>
<path d="M126.68,277.56 L127.00,277.18 L127.33,276.80 L127.61,276.47 L127.66,276.41 L127.98,276.02 L128.31,275.63 L128.54,275.34 L128.64,275.23 L128.96,274.82 L129.29,274.40 L129.48,274.16 L129.62,273.98 L129.94,273.55 L130.27,273.11 L130.41,272.92 L130.60,272.66 L130.92,272.20 L131.25,271.73 L131.34,271.59 L131.58,271.25 L131.90,270.75 L132.23,270.24 L132.28,270.17 L132.56,269.72 L132.88,269.17 L133.21,268.61 L133.21,268.61 L133.54,268.03 L133.87,267.42 L134.15,266.88 L134.19,266.78 L134.52,266.12 L134.85,265.43 L135.08,264.92 L135.17,264.71 L135.50,263.96 L135.83,263.19 L136.01,262.73 L136.15,262.39 L136.48,261.57 L136.81,260.73 L136.95,260.37 L137.13,259.89 L137.46,259.04 L137.78,258.19 L137.88,257.94 L138.11,257.34 L138.44,256.50 L138.76,255.66 L138.81,255.55 L139.09,254.84 L139.41,254.04 L139.74,253.25 L139.74,253.25 L140.07,252.47 L140.39,251.72 L140.67,251.09 L140.72,250.98 L141.04,250.27 L141.37,249.58 L141.60,249.10 L141.69,248.91 L142.02,248.26 L142.35,247.64 L142.53,247.30 L142.67,247.05 L143.00,246.47 L143.32,245.91 L143.46,245.68 L143.65,245.38 L143.97,244.86 L144.30,244.36 L144.39,244.23 L144.62,243.88 L144.95,243.41 L145.28,242.95 L145.32,242.89 L145.60,242.50 L145.93,242.07 L146.25,241.64 L146.25,241.64 L146.58,241.22 L146.90,240.81 L147.18,240.47 L147.23,240.41 L147.55,240.02 L147.88,239.64 L148.11,239.37 L148.20,239.27 L148.53,238.91 L148.85,238.56 L149.04,238.36 L149.18,238.22 L149.50,237.90 L149.83,237.58 L149.97,237.46 L150.15,237.29 L150.48,237.00 L150.80,236.72 L150.90,236.65 L151.13,236.46 L151.45,236.20 L151.78,235.96 L151.82,235.93 L152.10,235.72 L152.43,235.50 L152.75,235.28 L152.75,235.28 L153.08,235.06 L153.40,234.86 L153.68,234.68 L153.73,234.65 L154.05,234.46 L154.38,234.27 L154.61,234.13 L154.70,234.08 L155.03,233.90 L155.35,233.72 L155.54,233.62 L155.68,233.54 L156.47,233.13 L157.40,232.66 L158.33,232.21 L159.26,231.79 L160.19,231.38 L161.12,230.99 L162.05,230.61 L162.98,230.25 L163.92,229.91 L164.85,229.58 L165.78,229.26 L166.71,228.95 L167.64,228.66 L168.57,228.37 L169.50,228.09 L170.43,227.82 L171.36,227.55 L172.30,227.28 L173.23,227.01 L174.16,226.74 L175.09,226.47 L176.03,226.19 L176.96,225.92 L177.89,225.64 L178.82,225.36 L179.75,225.08 L180.69,224.80 L181.62,224.52 L182.55,224.24 L183.48,223.97 L184.41,223.69 L185.35,223.42 L186.28,223.15 L187.21,222.88 L188.14,222.61 L189.07,222.34 L190.00,222.07 L190.94,221.81 L191.87,221.55 L192.80,221.29 L193.73,221.03 L194.66,220.77 L195.60,220.51 L196.53,220.26 L197.46,220.00 L198.39,219.74 L199.32,219.48 L200.26,219.22 L201.19,218.95 L202.12,218.69 L203.05,218.43 L203.99,218.17 L204.92,217.90 L205.85,217.64 L206.78,217.37 L207.71,217.11 L208.65,216.84 L209.58,216.58" fill="none" stroke="#0000ff" stroke-width="1.3" stroke-linejoin="round" stroke-linecap="round"/>
<path d="M126.50,400.10 V560.00" stroke="#383838" stroke-width="1" stroke-dasharray="3.05,1.67" fill="none"/>
<path d="M43.95,479.50 H209.85" stroke="#383838" stroke-width="1" stroke-dasharray="3.05,1.67" fill="none"/>
<rect x="99.60" y="419.20" width="37.00" height="15.7" fill="#fff"/>
<path d="M61.54,540.63 L62.27,540.32 L63.01,540.00 L63.74,539.68 L64.47,539.36 L65.21,539.03 L65.94,538.69 L66.67,538.35 L67.41,538.01 L68.14,537.65 L68.87,537.30 L69.61,536.93 L70.34,536.57 L71.07,536.19 L71.81,535.82 L72.54,535.44 L73.27,535.05 L74.01,534.66 L74.74,534.26 L75.47,533.87 L76.21,533.46 L76.94,533.06 L77.67,532.65 L78.40,532.23 L79.14,531.81 L79.87,531.38 L80.61,530.95 L81.34,530.50 L82.07,530.05 L82.81,529.59 L83.54,529.12 L84.27,528.65 L85.01,528.17 L85.74,527.68 L86.47,527.19 L87.21,526.70 L87.94,526.20 L88.67,525.70 L89.40,525.20 L90.14,524.70 L90.87,524.20 L91.60,523.71 L92.33,523.21 L93.06,522.71 L93.80,522.21 L94.53,521.71 L95.26,521.20 L96.00,520.69 L96.73,520.16 L97.46,519.62 L97.72,519.43 L98.05,519.18 L98.20,519.06 L98.37,518.92 L98.70,518.66 L98.94,518.48 L99.03,518.40 L99.36,518.13 L99.67,517.87 L99.69,517.85 L100.01,517.57 L100.34,517.29 L100.41,517.23 L100.67,516.99 L101.00,516.69 L101.15,516.56 L101.33,516.39 L101.65,516.08 L101.88,515.86 L101.98,515.77 L102.31,515.45 L102.62,515.15 L102.64,515.13 L102.96,514.81 L103.29,514.49 L103.35,514.43 L103.61,514.17 L103.94,513.85 L104.08,513.71 L104.27,513.53 L104.59,513.21 L104.81,512.99 L104.92,512.89 L105.25,512.57 L105.54,512.28 L105.57,512.25 L105.90,511.93 L106.22,511.61 L106.28,511.56 L106.55,511.29 L106.88,510.96 L107.01,510.83 L107.20,510.64 L107.53,510.31 L107.74,510.09 L107.86,509.98 L108.18,509.64 L108.48,509.34 L108.51,509.31 L108.84,508.97 L109.17,508.62 L109.21,508.58 L109.49,508.27 L109.82,507.92 L109.95,507.78 L110.15,507.56 L110.48,507.20 L110.68,506.97 L110.80,506.83 L111.13,506.45 L111.42,506.12 L111.46,506.07 L111.79,505.68 L112.11,505.28 L112.15,505.24 L112.44,504.88 L112.77,504.47 L112.89,504.32 L113.10,504.05 L113.42,503.62 L113.62,503.36 L113.75,503.19 L114.08,502.75 L114.36,502.37 L114.41,502.29 L114.73,501.84 L115.06,501.37 L115.09,501.33 L115.39,500.90 L115.72,500.42 L115.83,500.25 L116.04,499.92 L116.37,499.42 L116.56,499.13 L116.70,498.91 L117.03,498.40 L117.30,497.96 L117.35,497.87 L117.68,497.33 L118.01,496.79 L118.03,496.75 L118.33,496.23 L118.66,495.67 L118.76,495.49 L118.99,495.10 L119.31,494.52 L119.50,494.20 L119.64,493.94 L119.97,493.35 L120.23,492.87 L120.30,492.75 L120.62,492.15 L120.95,491.54 L120.96,491.51 L121.28,490.92 L121.60,490.30 L121.70,490.12 L121.93,489.68 L122.26,489.05 L122.43,488.71 L122.58,488.41 L122.91,487.77 L123.16,487.26 L123.24,487.12 L123.56,486.46 L123.89,485.80 L123.90,485.78 L124.22,485.13 L124.54,484.46 L124.63,484.28 L124.87,483.78 L125.19,483.10 L125.36,482.75 L125.52,482.42 L125.85,481.74 L126.09,481.22 L126.17,481.05 L126.50,480.38 L126.83,479.70" fill="none" stroke="#ff0000" stroke-width="1.0" stroke-linejoin="round" stroke-linecap="round"/>
<path d="M61.36,540.21 L62.84,539.58 L64.31,538.94 L65.79,538.27 L67.26,537.58 L68.73,536.86 L70.21,536.13 L71.68,535.38 L73.16,534.60 L74.63,533.81 L76.10,533.01 L77.58,532.18 L79.05,531.34 L80.53,530.47 L82.00,529.57 L83.47,528.63 L84.95,527.67 L86.42,526.69 L87.90,525.69 L89.37,524.68 L90.85,523.67 L92.32,522.67 L93.80,521.67 L95.27,520.65 L96.75,519.59 L97.45,519.07 L98.10,518.57 L98.21,518.48 L98.75,518.05 L99.40,517.51 L99.68,517.26 L100.04,516.95 L100.69,516.36 L101.15,515.93 L101.34,515.75 L102.00,515.13 L102.63,514.51 L102.65,514.49 L103.30,513.85 L103.95,513.21 L104.10,513.06 L104.60,512.57 L105.26,511.93 L105.58,511.61 L105.91,511.29 L106.56,510.64 L107.05,510.15 L107.21,509.99 L107.86,509.33 L108.51,508.66 L108.52,508.65 L109.16,507.97 L109.82,507.26 L110.00,507.06 L110.47,506.53 L111.12,505.78 L111.47,505.36 L111.77,505.00 L112.42,504.19 L112.94,503.51 L113.07,503.35 L113.72,502.48 L114.37,501.58 L114.41,501.52 L115.02,500.64 L115.67,499.68 L115.88,499.35 L116.32,498.67 L116.97,497.63 L117.35,497.00 L117.62,496.56 L118.27,495.45 L118.83,494.47 L118.92,494.30 L119.57,493.13 L120.23,491.93 L120.30,491.79 L120.88,490.71 L121.53,489.47 L121.78,489.00 L122.18,488.20 L122.83,486.91 L123.25,486.08 L123.48,485.60 L124.14,484.26 L124.72,483.04 L124.79,482.91 L125.44,481.54 L126.09,480.18 L126.20,479.96 L126.75,478.83 L127.40,477.51 L127.68,476.95 L128.05,476.21 L128.71,474.94 L129.16,474.09 L129.36,473.70 L130.01,472.48 L130.63,471.35 L130.67,471.29 L131.32,470.12 L131.97,468.97 L132.11,468.72 L132.63,467.84 L133.28,466.73 L133.59,466.21 L133.93,465.65 L134.59,464.59 L135.07,463.82 L135.24,463.55 L135.89,462.55 L136.55,461.57 L136.55,461.57 L137.20,460.61 L137.85,459.67 L138.02,459.43 L138.51,458.76 L139.16,457.87 L139.50,457.41 L139.82,456.99 L140.47,456.14 L140.98,455.48 L141.12,455.30 L141.78,454.48 L142.43,453.67 L142.46,453.63 L143.08,452.87 L143.74,452.10 L143.94,451.86 L144.39,451.33 L145.04,450.59 L145.42,450.18 L145.70,449.87 L146.36,449.19 L146.90,448.64 L147.01,448.53 L147.67,447.91 L148.32,447.33 L148.39,447.27 L148.98,446.78 L149.64,446.26 L149.87,446.08 L150.29,445.77 L150.95,445.29 L151.35,445.00 L151.60,444.83 L152.25,444.36 L152.83,443.95 L152.90,443.90 L153.56,443.42 L154.21,442.93 L154.30,442.85 L154.86,442.42 L155.51,441.90 L155.77,441.69 L157.25,440.49 L158.73,439.30 L160.20,438.15 L161.68,437.04 L163.16,435.97 L164.64,434.92 L166.12,433.89 L167.59,432.88 L169.07,431.90 L170.55,430.93 L172.02,429.98 L173.50,429.05 L174.98,428.13 L176.46,427.22 L177.93,426.33 L179.41,425.46 L180.89,424.63 L182.37,423.83 L183.85,423.06 L185.33,422.33 L186.81,421.64 L188.29,420.97 L189.77,420.34 L191.24,419.73 L192.72,419.16" fill="none" stroke="#00e600" stroke-width="1.15" stroke-linejoin="round" stroke-linecap="round"/>
<path d="M126.64,479.61 L126.97,478.94 L127.30,478.28 L127.39,478.09 L127.62,477.62 L127.95,476.97 L128.13,476.61 L128.28,476.33 L128.60,475.69 L128.88,475.16 L128.93,475.06 L129.25,474.44 L129.58,473.82 L129.62,473.75 L129.91,473.21 L130.23,472.60 L130.36,472.36 L130.56,472.00 L130.88,471.41 L131.11,471.01 L131.21,470.82 L131.54,470.24 L131.85,469.69 L131.86,469.66 L132.19,469.09 L132.52,468.52 L132.59,468.39 L132.84,467.96 L133.17,467.41 L133.34,467.12 L133.49,466.86 L133.82,466.31 L134.08,465.88 L134.15,465.78 L134.47,465.24 L134.80,464.72 L134.82,464.68 L135.12,464.20 L135.45,463.69 L135.57,463.51 L135.78,463.18 L136.10,462.69 L136.31,462.37 L136.43,462.19 L136.75,461.71 L137.05,461.26 L137.08,461.23 L137.41,460.75 L137.73,460.28 L137.80,460.19 L138.06,459.82 L138.38,459.36 L138.54,459.14 L138.71,458.91 L139.04,458.46 L139.28,458.12 L139.36,458.02 L139.69,457.58 L140.01,457.14 L140.03,457.13 L140.34,456.71 L140.67,456.29 L140.77,456.15 L140.99,455.87 L141.32,455.45 L141.51,455.20 L141.64,455.04 L141.97,454.63 L142.26,454.28 L142.30,454.23 L142.62,453.83 L142.95,453.43 L143.00,453.36 L143.28,453.03 L143.60,452.64 L143.74,452.47 L143.93,452.26 L144.25,451.87 L144.49,451.60 L144.58,451.50 L144.91,451.12 L145.23,450.76 L145.23,450.76 L145.56,450.40 L145.88,450.04 L145.97,449.95 L146.21,449.70 L146.53,449.36 L146.72,449.18 L146.86,449.03 L147.19,448.71 L147.46,448.45 L147.51,448.40 L147.84,448.10 L148.16,447.80 L148.20,447.77 L148.49,447.52 L148.81,447.24 L148.94,447.14 L149.14,446.98 L149.47,446.72 L149.69,446.54 L149.79,446.46 L150.12,446.21 L150.43,445.98 L150.44,445.97 L150.77,445.73 L151.09,445.50 L151.17,445.44 L151.42,445.26 L151.75,445.03 L151.92,444.91 L152.07,444.80 L152.40,444.57 L152.66,444.38 L152.73,444.33 L153.05,444.10 L153.38,443.86 L153.40,443.84 L153.71,443.62 L154.03,443.37 L154.15,443.28 L154.36,443.12 L154.68,442.87 L154.89,442.71 L155.01,442.62 L155.34,442.36 L155.64,442.12 L155.66,442.10 L156.38,441.52 L157.13,440.92 L157.87,440.31 L158.61,439.71 L159.36,439.12 L160.10,438.55 L160.84,437.98 L161.59,437.43 L162.33,436.88 L163.07,436.34 L163.82,435.81 L164.56,435.28 L165.30,434.76 L166.05,434.24 L166.79,433.73 L167.53,433.22 L168.28,432.72 L169.02,432.23 L169.77,431.74 L170.51,431.25 L171.25,430.77 L172.00,430.30 L172.74,429.83 L173.48,429.36 L174.23,428.89 L174.97,428.43 L175.71,427.97 L176.46,427.51 L177.20,427.06 L177.94,426.61 L178.69,426.17 L179.43,425.74 L180.17,425.32 L180.92,424.90 L181.66,424.49 L182.40,424.09 L183.15,423.70 L183.89,423.32 L184.63,422.95 L185.38,422.59 L186.12,422.23 L186.87,421.89 L187.61,421.55 L188.35,421.22 L189.10,420.89 L189.84,420.58 L190.58,420.27 L191.33,419.97 L192.07,419.68 L192.81,419.39" fill="none" stroke="#0000ff" stroke-width="1.15" stroke-linejoin="round" stroke-linecap="round"/>
<path d="M66.42,543.31 L67.66,542.60 L68.89,541.88 L70.13,541.17 L71.37,540.46 L72.60,539.75 L73.84,539.05 L75.08,538.34 L76.31,537.64 L77.55,536.95 L78.79,536.25 L80.02,535.56 L81.26,534.87 L82.50,534.18 L83.73,533.50 L84.97,532.81 L86.20,532.13 L87.44,531.46 L88.68,530.78 L89.91,530.11 L91.15,529.44 L92.38,528.79 L93.62,528.14 L94.86,527.49 L96.09,526.84 L97.33,526.19 L97.69,526.00 L98.34,525.65 L98.57,525.52 L98.99,525.29 L99.65,524.93 L99.81,524.83 L100.30,524.55 L100.95,524.18 L101.05,524.12 L101.61,523.79 L102.26,523.40 L102.29,523.39 L102.92,523.01 L103.53,522.64 L103.57,522.62 L104.22,522.23 L104.76,521.90 L104.87,521.83 L105.53,521.44 L106.00,521.15 L106.18,521.04 L106.83,520.64 L107.24,520.39 L107.49,520.24 L108.14,519.82 L108.48,519.60 L108.80,519.39 L109.45,518.95 L109.73,518.76 L110.11,518.48 L110.78,518.03 L111.00,517.88 L111.46,517.55 L112.14,517.05 L112.29,516.94 L112.83,516.51 L113.51,515.95 L113.59,515.88 L114.20,515.33 L114.88,514.67 L114.90,514.65 L115.58,513.92 L116.20,513.19 L116.29,513.08 L116.98,512.16 L117.51,511.33 L117.66,511.07 L118.32,509.88 L118.78,508.97 L118.99,508.51 L119.65,507.00 L120.04,506.03 L120.31,505.29 L120.97,503.40 L121.29,502.42 L121.63,501.32 L122.28,499.08 L122.53,498.20 L122.94,496.70 L123.59,494.21 L123.77,493.53 L124.25,491.65 L124.90,489.04 L125.01,488.61 L125.55,486.40 L126.20,483.74 L126.24,483.58 L126.86,481.08 L127.24,478.47 L127.27,478.36 L127.92,475.67 L128.48,473.33 L128.57,472.92 L129.22,470.09 L129.71,467.92 L129.88,467.19 L130.53,464.28 L130.95,462.45 L131.18,461.48 L131.83,458.88 L132.18,457.60 L132.48,456.58 L133.13,454.58 L133.41,453.80 L133.77,452.87 L134.42,451.38 L134.63,450.94 L135.06,450.10 L135.71,448.93 L135.85,448.70 L136.35,447.89 L137.00,446.92 L137.08,446.81 L137.65,446.01 L138.30,445.15 L138.30,445.15 L138.94,444.35 L139.53,443.64 L139.58,443.59 L140.23,442.86 L140.76,442.31 L140.87,442.20 L141.52,441.57 L141.97,441.17 L142.15,441.01 L142.80,440.48 L143.19,440.19 L143.44,440.01 L144.09,439.56 L144.40,439.35 L144.73,439.15 L145.37,438.75 L145.63,438.60 L146.02,438.38 L146.67,438.01 L146.86,437.91 L147.32,437.65 L147.97,437.30 L148.09,437.24 L148.62,436.95 L149.27,436.61 L149.32,436.59 L149.92,436.28 L150.56,435.95 L150.57,435.94 L151.22,435.62 L151.79,435.34 L151.87,435.30 L152.52,434.98 L153.02,434.74 L153.17,434.67 L153.83,434.36 L154.26,434.16 L154.48,434.05 L155.13,433.74 L155.49,433.57 L155.78,433.44 L156.73,432.98 L157.97,432.39 L159.21,431.78 L160.45,431.15 L161.69,430.51 L162.93,429.85 L164.17,429.18 L165.41,428.51 L166.64,427.83 L167.88,427.15 L169.12,426.48 L170.35,425.80 L171.59,425.13 L172.83,424.47 L174.06,423.80 L175.30,423.14 L176.53,422.49" fill="none" stroke="#ff0000" stroke-width="1.0" stroke-linejoin="round" stroke-linecap="round"/>
<path d="M66.22,542.97 L67.59,542.17 L68.95,541.38 L70.32,540.60 L71.69,539.81 L73.06,539.03 L74.42,538.25 L75.79,537.48 L77.16,536.71 L78.52,535.94 L79.89,535.17 L81.26,534.41 L82.63,533.65 L83.99,532.89 L85.36,532.14 L86.73,531.39 L88.09,530.64 L89.46,529.90 L90.83,529.16 L92.20,528.43 L93.56,527.71 L94.93,527.00 L96.30,526.29 L97.50,525.65 L97.66,525.56 L98.15,525.30 L98.80,524.94 L99.03,524.81 L99.45,524.58 L100.10,524.21 L100.39,524.04 L100.75,523.83 L101.41,523.45 L101.76,523.24 L102.06,523.06 L102.71,522.67 L103.12,522.42 L103.36,522.28 L104.01,521.88 L104.49,521.60 L104.67,521.49 L105.32,521.10 L105.86,520.77 L105.97,520.70 L106.62,520.30 L107.22,519.93 L107.27,519.90 L107.92,519.48 L108.58,519.06 L108.59,519.05 L109.23,518.62 L109.88,518.16 L109.95,518.11 L110.53,517.68 L111.18,517.18 L111.31,517.08 L111.82,516.66 L112.48,516.11 L112.67,515.94 L113.12,515.53 L113.77,514.90 L114.03,514.64 L114.42,514.23 L115.07,513.49 L115.39,513.09 L115.71,512.67 L116.36,511.74 L116.74,511.15 L117.01,510.71 L117.66,509.53 L118.10,508.64 L118.31,508.21 L118.96,506.71 L119.46,505.42 L119.61,505.04 L120.26,503.16 L120.83,501.37 L120.91,501.10 L121.56,498.87 L122.19,496.58 L122.21,496.50 L122.87,494.02 L123.52,491.47 L123.56,491.31 L124.17,488.86 L124.82,486.22 L124.93,485.80 L125.48,483.56 L126.13,480.90 L126.29,480.23 L126.44,478.16 L127.09,475.47 L127.32,474.52 L127.74,472.73 L128.40,469.90 L128.69,468.62 L129.05,467.00 L129.70,464.09 L130.05,462.56 L130.36,461.27 L131.01,458.67 L131.43,457.15 L131.67,456.33 L132.32,454.30 L132.81,453.00 L132.99,452.54 L133.65,451.03 L134.19,449.93 L134.32,449.69 L134.98,448.51 L135.58,447.52 L135.64,447.42 L136.31,446.44 L137.01,445.55 L137.02,445.53 L137.71,444.70 L138.40,443.91 L138.49,443.82 L139.10,443.16 L139.79,442.46 L139.94,442.32 L140.49,441.81 L141.18,441.21 L141.39,441.04 L141.87,440.67 L142.56,440.17 L142.83,439.99 L143.24,439.72 L143.89,439.27 L144.21,439.06 L144.54,438.85 L145.19,438.45 L145.58,438.23 L145.85,438.07 L146.50,437.71 L146.94,437.46 L147.15,437.35 L147.80,436.99 L148.31,436.72 L148.46,436.65 L149.11,436.30 L149.68,436.01 L149.76,435.96 L150.41,435.63 L151.04,435.32 L151.07,435.30 L151.72,434.98 L152.37,434.67 L152.41,434.65 L153.02,434.35 L153.68,434.04 L153.78,434.00 L154.33,433.73 L154.98,433.43 L155.14,433.35 L155.63,433.12 L156.51,432.70 L157.88,432.04 L159.24,431.37 L160.61,430.67 L161.98,429.96 L163.35,429.23 L164.71,428.49 L166.08,427.74 L167.45,426.99 L168.81,426.24 L170.18,425.50 L171.55,424.76 L172.91,424.02 L174.28,423.29 L175.65,422.56 L177.01,421.83 L178.38,421.11 L179.75,420.38 L181.12,419.66 L182.48,418.94 L183.85,418.22 L185.22,417.50 L186.58,416.78 L187.95,416.07" fill="none" stroke="#00e600" stroke-width="1.2" stroke-linejoin="round" stroke-linecap="round"/>
<path d="M126.70,479.63 L127.02,478.30 L127.35,476.96 L127.39,476.81 L127.68,475.61 L128.00,474.25 L128.08,473.93 L128.33,472.86 L128.65,471.46 L128.77,470.98 L128.98,470.03 L129.31,468.59 L129.45,467.93 L129.63,467.13 L129.96,465.68 L130.14,464.85 L130.29,464.23 L130.61,462.80 L130.83,461.86 L130.94,461.42 L131.26,460.09 L131.52,459.08 L131.59,458.82 L131.92,457.62 L132.21,456.61 L132.24,456.51 L132.57,455.46 L132.89,454.50 L132.90,454.48 L133.22,453.60 L133.54,452.77 L133.59,452.67 L133.87,452.00 L134.19,451.28 L134.27,451.12 L134.52,450.61 L134.84,449.98 L134.96,449.76 L135.17,449.38 L135.49,448.81 L135.65,448.55 L135.82,448.27 L136.14,447.75 L136.33,447.46 L136.47,447.26 L136.79,446.78 L137.02,446.45 L137.12,446.31 L137.45,445.86 L137.71,445.51 L137.77,445.43 L138.10,445.00 L138.40,444.62 L138.42,444.59 L138.75,444.19 L139.07,443.80 L139.08,443.78 L139.40,443.42 L139.72,443.05 L139.77,443.00 L140.05,442.69 L140.37,442.35 L140.46,442.26 L140.70,442.02 L141.02,441.70 L141.14,441.58 L141.35,441.39 L141.67,441.10 L141.83,440.96 L142.00,440.82 L142.32,440.55 L142.52,440.39 L142.65,440.29 L142.97,440.04 L143.20,439.87 L143.29,439.80 L143.62,439.57 L143.89,439.39 L143.94,439.35 L144.27,439.14 L144.58,438.95 L144.59,438.94 L144.92,438.73 L145.25,438.54 L145.26,438.53 L145.57,438.35 L145.90,438.16 L145.95,438.13 L146.22,437.98 L146.55,437.79 L146.64,437.74 L146.87,437.61 L147.20,437.43 L147.33,437.36 L147.52,437.26 L147.85,437.08 L148.02,436.99 L148.18,436.91 L148.50,436.73 L148.71,436.63 L148.83,436.56 L149.15,436.39 L149.39,436.27 L149.48,436.22 L149.81,436.05 L150.08,435.91 L150.13,435.89 L150.46,435.72 L150.77,435.56 L150.78,435.56 L151.11,435.39 L151.44,435.23 L151.46,435.22 L151.76,435.07 L152.09,434.91 L152.15,434.89 L152.41,434.76 L152.74,434.60 L152.84,434.55 L153.07,434.44 L153.39,434.29 L153.53,434.22 L153.72,434.13 L154.04,433.98 L154.22,433.90 L154.37,433.83 L154.70,433.67 L154.90,433.57 L155.02,433.52 L155.35,433.36 L155.59,433.25 L155.68,433.21 L156.28,432.92 L156.97,432.59 L157.66,432.26 L158.35,431.92 L159.04,431.58 L159.73,431.24 L160.42,430.88 L161.11,430.53 L161.80,430.16 L162.49,429.80 L163.18,429.43 L163.87,429.06 L164.56,428.68 L165.25,428.31 L165.94,427.93 L166.63,427.55 L167.32,427.18 L168.01,426.80 L168.70,426.42 L169.39,426.04 L170.08,425.67 L170.76,425.29 L171.45,424.92 L172.14,424.55 L172.83,424.18 L173.52,423.81 L174.21,423.44 L174.90,423.07 L175.59,422.71 L176.28,422.34 L176.97,421.97 L177.66,421.61 L178.35,421.24 L179.04,420.87 L179.72,420.51 L180.41,420.14 L181.10,419.78 L181.79,419.41 L182.48,419.05 L183.17,418.69 L183.86,418.32 L184.55,417.96 L185.24,417.60 L185.93,417.24 L186.62,416.88 L187.31,416.52 L188.00,416.15" fill="none" stroke="#0000ff" stroke-width="1.3" stroke-linejoin="round" stroke-linecap="round"/>
<path d="M298.50,32.10 V191.95" stroke="#383838" stroke-width="1" stroke-dasharray="3.05,1.67" fill="none"/>
<path d="M214.50,174.98 L216.08,174.77 L217.97,174.54 L219.85,174.28 L221.74,174.00 L223.63,173.70 L225.51,173.39 L227.40,173.07 L229.28,172.72 L231.17,172.33 L233.05,171.88 L234.94,171.34 L236.82,170.64 L238.71,169.81 L240.59,168.87 L242.48,167.87 L244.36,166.82 L246.25,165.66 L248.14,164.39 L250.02,163.02 L251.91,161.58 L253.79,160.07 L255.68,158.45 L257.56,156.72 L259.45,154.91 L261.33,153.02 L263.22,151.08 L265.10,149.07 L266.99,146.98 L268.88,144.81 L269.07,144.58 L269.73,143.80 L270.39,143.01 L270.76,142.56 L271.05,142.21 L271.70,141.40 L272.36,140.59 L272.65,140.23 L273.02,139.76 L273.68,138.91 L274.34,138.05 L274.53,137.79 L274.99,137.16 L275.65,136.26 L276.31,135.34 L276.42,135.19 L276.97,134.40 L277.63,133.45 L278.28,132.45 L278.30,132.42 L278.94,131.41 L279.60,130.36 L280.19,129.41 L280.26,129.29 L280.92,128.24 L281.57,127.21 L282.07,126.44 L282.23,126.19 L282.89,125.14 L283.55,124.08 L283.96,123.41 L284.20,123.02 L284.86,121.95 L285.52,120.90 L285.84,120.38 L286.18,119.86 L286.84,118.86 L287.49,117.89 L287.73,117.55 L288.15,116.96 L288.81,116.09 L289.47,115.29 L289.61,115.12 L290.13,114.55 L290.78,113.81 L291.44,113.07 L291.50,113.00 L292.10,112.33 L292.76,111.64 L293.39,111.03 L293.42,111.00 L294.07,110.45 L294.73,110.01 L295.27,109.75 L295.39,109.70 L296.05,109.54 L296.71,109.43 L297.16,109.37 L297.36,109.34 L298.02,109.29 L298.68,109.34 L299.04,109.50 L299.34,109.69 L299.99,110.24 L300.65,110.86 L300.93,111.10 L301.31,111.47 L301.97,112.21 L302.63,113.02 L302.81,113.25 L303.28,113.84 L303.94,114.60 L304.60,115.28 L304.70,115.38 L305.26,115.93 L305.92,116.56 L306.57,117.16 L306.58,117.17 L307.23,117.76 L307.89,118.36 L308.47,118.89 L308.55,118.96 L309.21,119.58 L309.86,120.22 L310.35,120.71 L310.52,120.89 L311.18,121.59 L311.84,122.33 L312.24,122.80 L312.50,123.10 L313.15,123.90 L313.81,124.71 L314.13,125.10 L314.47,125.54 L315.13,126.37 L315.78,127.22 L316.01,127.51 L316.44,128.07 L317.10,128.91 L317.76,129.76 L317.90,129.94 L318.42,130.62 L319.07,131.48 L319.73,132.35 L319.78,132.42 L320.39,133.23 L321.05,134.12 L321.67,134.96 L321.71,135.01 L322.36,135.91 L323.02,136.80 L323.55,137.53 L323.68,137.70 L324.34,138.62 L325.00,139.55 L325.44,140.17 L325.65,140.48 L326.31,141.42 L326.97,142.35 L327.32,142.85 L327.63,143.27 L329.21,145.43 L331.09,147.95 L332.98,150.45 L334.86,152.84 L336.75,155.07 L338.64,157.12 L340.52,159.06 L342.41,160.88 L344.29,162.56 L346.18,164.10 L348.06,165.54 L349.95,166.90 L351.83,168.13 L353.72,169.21 L355.60,170.13 L357.49,170.97 L359.38,171.72 L361.26,172.38 L363.15,172.95 L365.03,173.45 L366.92,173.91 L368.80,174.31 L370.69,174.64 L372.57,174.91 L374.46,175.17 L376.34,175.40 L378.23,175.60 L380.11,175.76 L381.80,175.86" fill="none" stroke="#ff0000" stroke-width="1.16" stroke-linejoin="round" stroke-linecap="round"/>
<path d="M214.50,174.28 L216.33,174.07 L218.22,173.84 L220.10,173.58 L221.99,173.30 L223.88,173.00 L225.76,172.69 L227.65,172.37 L229.53,172.02 L231.42,171.63 L233.30,171.18 L235.19,170.64 L237.07,169.94 L238.96,169.11 L240.84,168.17 L242.73,167.17 L244.61,166.12 L246.50,164.96 L248.39,163.69 L250.27,162.32 L252.16,160.88 L254.04,159.37 L255.93,157.75 L257.81,156.02 L259.70,154.21 L261.58,152.32 L263.47,150.38 L265.35,148.37 L267.24,146.28 L269.13,144.11 L269.32,143.88 L269.98,143.10 L270.64,142.31 L271.01,141.86 L271.30,141.51 L271.95,140.70 L272.61,139.89 L272.90,139.53 L273.27,139.06 L273.93,138.21 L274.59,137.35 L274.78,137.09 L275.24,136.46 L275.90,135.56 L276.56,134.64 L276.67,134.49 L277.22,133.70 L277.88,132.75 L278.53,131.74 L278.55,131.71 L279.19,130.68 L279.85,129.61 L280.44,128.65 L280.51,128.54 L281.17,127.50 L281.82,126.51 L282.32,125.78 L282.48,125.55 L283.14,124.57 L283.80,123.60 L284.21,122.99 L284.45,122.63 L285.11,121.67 L285.77,120.73 L286.09,120.27 L286.43,119.82 L287.09,118.94 L287.74,118.12 L287.98,117.83 L288.40,117.34 L289.06,116.63 L289.72,115.99 L289.86,115.86 L290.38,115.42 L291.03,114.86 L291.69,114.31 L291.75,114.27 L292.35,113.80 L293.01,113.34 L293.64,112.94 L293.67,112.93 L294.32,112.59 L294.98,112.33 L295.52,112.17 L295.64,112.14 L296.30,111.98 L296.96,111.84 L297.41,111.76 L297.61,111.73 L298.27,111.67 L298.93,111.68 L299.29,111.76 L299.59,111.85 L300.24,112.13 L300.90,112.44 L301.18,112.57 L301.56,112.77 L302.22,113.18 L302.88,113.65 L303.06,113.79 L303.53,114.15 L304.19,114.66 L304.85,115.16 L304.95,115.23 L305.51,115.66 L306.17,116.18 L306.82,116.70 L306.83,116.71 L307.48,117.24 L308.14,117.80 L308.72,118.30 L308.80,118.37 L309.46,118.96 L310.11,119.57 L310.60,120.05 L310.77,120.21 L311.43,120.88 L312.09,121.59 L312.49,122.04 L312.75,122.34 L313.40,123.13 L314.06,123.95 L314.38,124.35 L314.72,124.79 L315.38,125.65 L316.03,126.50 L316.26,126.80 L316.69,127.36 L317.35,128.21 L318.01,129.06 L318.15,129.24 L318.67,129.92 L319.32,130.78 L319.98,131.65 L320.03,131.72 L320.64,132.53 L321.30,133.42 L321.92,134.26 L321.96,134.31 L322.61,135.21 L323.27,136.10 L323.80,136.83 L323.93,137.00 L324.59,137.92 L325.25,138.85 L325.69,139.47 L325.90,139.78 L326.56,140.72 L327.22,141.65 L327.57,142.15 L327.88,142.57 L329.46,144.73 L331.34,147.25 L333.23,149.75 L335.11,152.14 L337.00,154.37 L338.89,156.42 L340.77,158.36 L342.66,160.18 L344.54,161.86 L346.43,163.40 L348.31,164.84 L350.20,166.20 L352.08,167.43 L353.97,168.51 L355.85,169.43 L357.74,170.27 L359.63,171.02 L361.51,171.68 L363.40,172.25 L365.28,172.75 L367.17,173.21 L369.05,173.61 L370.94,173.94 L372.82,174.21 L374.71,174.47 L376.59,174.70 L378.48,174.90 L380.36,175.06 L381.80,175.16" fill="none" stroke="#00e600" stroke-width="1.26" stroke-linejoin="round" stroke-linecap="round"/>
<path d="M298.20,116.11 L298.53,115.76 L298.86,115.42 L299.14,115.15 L299.19,115.11 L299.52,114.86 L299.84,114.66 L300.08,114.56 L300.17,114.52 L300.50,114.38 L300.83,114.25 L301.02,114.18 L301.16,114.13 L301.49,114.04 L301.82,113.97 L301.96,113.95 L302.15,113.93 L302.48,113.93 L302.81,114.12 L302.90,114.21 L303.13,114.48 L303.46,114.90 L303.79,115.29 L303.84,115.34 L304.12,115.60 L304.45,115.89 L304.78,116.17 L304.78,116.17 L305.11,116.45 L305.44,116.73 L305.72,116.96 L305.77,116.99 L306.10,117.26 L306.42,117.52 L306.66,117.71 L306.75,117.78 L307.08,118.05 L307.41,118.31 L307.60,118.46 L307.74,118.57 L308.07,118.84 L308.40,119.11 L308.54,119.22 L308.73,119.38 L309.06,119.66 L309.38,119.95 L309.48,120.03 L309.71,120.25 L310.04,120.55 L310.37,120.86 L310.42,120.91 L310.70,121.19 L311.03,121.53 L311.36,121.88 L311.36,121.88 L311.69,122.24 L312.02,122.61 L312.30,122.94 L312.35,122.99 L312.67,123.38 L313.00,123.78 L313.24,124.07 L313.33,124.19 L313.66,124.60 L313.99,125.02 L314.18,125.26 L314.32,125.44 L314.65,125.87 L314.98,126.30 L315.12,126.48 L315.31,126.72 L315.63,127.15 L315.96,127.58 L316.06,127.71 L316.29,128.01 L316.62,128.44 L316.95,128.86 L317.00,128.92 L317.28,129.28 L317.61,129.71 L317.94,130.14 L317.94,130.14 L318.27,130.57 L318.60,131.00 L318.88,131.37 L318.92,131.43 L319.25,131.87 L319.58,132.30 L319.82,132.62 L319.91,132.74 L320.24,133.18 L320.57,133.63 L320.76,133.88 L320.90,134.07 L321.23,134.51 L321.56,134.96 L321.70,135.15 L321.89,135.41 L322.21,135.86 L322.54,136.30 L322.64,136.43 L322.87,136.75 L323.20,137.20 L323.53,137.65 L323.58,137.72 L323.86,138.11 L324.19,138.57 L324.52,139.03 L324.52,139.03 L324.85,139.50 L325.17,139.96 L325.46,140.36 L325.50,140.43 L325.83,140.90 L326.16,141.37 L326.40,141.70 L326.49,141.83 L326.82,142.30 L327.15,142.76 L327.34,143.03 L327.48,143.22 L328.28,144.32 L329.22,145.59 L330.16,146.85 L331.10,148.11 L332.04,149.36 L332.98,150.59 L333.92,151.79 L334.86,152.97 L335.80,154.09 L336.74,155.17 L337.68,156.20 L338.62,157.20 L339.56,158.18 L340.49,159.13 L341.43,160.05 L342.37,160.94 L343.31,161.79 L344.25,162.61 L345.19,163.39 L346.13,164.13 L347.07,164.86 L348.01,165.57 L348.95,166.25 L349.89,166.91 L350.83,167.54 L351.77,168.13 L352.71,168.69 L353.65,169.20 L354.59,169.67 L355.53,170.12 L356.47,170.55 L357.41,170.95 L358.35,171.34 L359.29,171.70 L360.23,172.04 L361.17,172.35 L362.11,172.64 L363.05,172.91 L363.99,173.17 L364.93,173.42 L365.87,173.65 L366.81,173.87 L367.75,174.08 L368.69,174.27 L369.63,174.44 L370.57,174.59 L371.51,174.73 L372.45,174.87 L373.39,175.00 L374.33,175.12 L375.27,175.24 L376.21,175.36 L377.15,175.46 L378.09,175.55 L379.03,175.64 L379.97,175.71 L380.91,175.77 L381.80,175.81" fill="none" stroke="#0000ff" stroke-width="1.3" stroke-linejoin="round" stroke-linecap="round"/>
<path d="M214.50,176.88 L215.92,176.87 L217.81,176.85 L219.69,176.81 L221.58,176.76 L223.47,176.69 L225.35,176.62 L227.24,176.53 L229.13,176.44 L231.02,176.33 L232.90,176.22 L234.79,176.09 L236.68,175.89 L238.57,175.61 L240.45,175.28 L242.34,174.93 L244.23,174.57 L246.11,174.19 L248.00,173.76 L249.89,173.30 L251.78,172.78 L253.66,172.22 L255.55,171.60 L257.44,170.92 L259.33,170.15 L261.21,169.27 L263.10,168.27 L264.99,167.04 L266.88,165.46 L268.76,163.27 L269.07,162.80 L269.73,161.72 L270.39,160.57 L270.65,160.10 L271.05,159.38 L271.70,158.18 L272.36,156.91 L272.54,156.56 L273.02,155.51 L273.68,153.89 L274.34,151.89 L274.42,151.58 L274.99,149.51 L275.65,147.01 L276.31,144.54 L276.31,144.54 L276.97,141.96 L277.63,139.18 L278.20,136.50 L278.28,136.10 L278.94,133.00 L279.60,129.94 L280.09,127.44 L280.26,126.51 L280.92,122.75 L281.57,118.56 L281.97,115.75 L282.23,113.83 L282.89,108.40 L283.55,102.24 L283.86,99.17 L284.20,95.78 L284.86,89.35 L285.52,82.58 L285.75,80.25 L286.18,76.03 L286.84,70.35 L287.49,65.04 L287.64,64.01 L288.15,60.93 L288.81,58.50 L289.47,56.70 L289.52,56.60 L290.13,56.17 L290.78,56.23 L291.41,56.37 L291.44,56.38 L292.10,56.95 L292.76,57.88 L293.30,58.75 L293.42,58.95 L294.07,60.56 L294.73,62.47 L295.18,63.54 L295.39,63.88 L296.05,64.68 L296.71,65.33 L297.07,65.57 L297.36,65.66 L298.02,65.58 L298.68,65.20 L298.96,64.98 L299.34,64.63 L299.99,63.95 L300.65,62.81 L300.85,62.34 L301.31,61.16 L301.97,59.74 L302.63,58.88 L302.73,58.74 L303.28,58.15 L303.94,57.78 L304.60,58.08 L304.62,58.10 L305.26,59.04 L305.92,60.35 L306.51,62.32 L306.57,62.61 L307.23,65.88 L307.89,69.46 L308.40,72.61 L308.55,73.62 L309.21,78.35 L309.86,83.53 L310.28,87.29 L310.52,89.62 L311.18,96.24 L311.84,102.67 L312.17,105.94 L312.50,109.12 L313.15,115.66 L313.81,121.37 L314.06,123.08 L314.47,125.69 L315.13,129.41 L315.78,132.80 L315.94,133.61 L316.44,136.15 L317.10,139.49 L317.76,142.63 L317.83,142.96 L318.42,145.39 L319.07,147.59 L319.72,149.40 L319.73,149.43 L320.39,151.06 L321.05,152.52 L321.61,153.69 L321.71,153.90 L322.36,155.24 L323.02,156.61 L323.49,157.64 L323.68,158.05 L324.34,159.53 L325.00,160.96 L325.38,161.76 L325.65,162.30 L326.31,163.48 L326.97,164.50 L327.27,164.94 L327.63,165.46 L329.16,167.45 L331.04,169.41 L332.93,170.92 L334.82,172.20 L336.70,173.15 L338.59,173.78 L340.48,174.31 L342.37,174.74 L344.25,175.05 L346.14,175.23 L348.03,175.35 L349.92,175.44 L351.80,175.53 L353.69,175.60 L355.58,175.66 L357.47,175.71 L359.35,175.76 L361.24,175.81 L363.13,175.87 L365.01,175.93 L366.90,175.99 L368.79,176.04 L370.68,176.10 L372.56,176.15 L374.45,176.20 L376.34,176.24 L378.23,176.29 L380.11,176.33 L381.80,176.37" fill="none" stroke="#00e600" stroke-width="1.26" stroke-linejoin="round" stroke-linecap="round"/>
<path d="M214.50,176.88 L215.92,176.87 L217.81,176.85 L219.69,176.81 L221.58,176.76 L223.47,176.69 L225.35,176.62 L227.24,176.53 L229.13,176.44 L231.02,176.33 L232.90,176.22 L234.79,176.09 L236.68,175.89 L238.57,175.61 L240.45,175.28 L242.34,174.93 L244.23,174.57 L246.11,174.19 L248.00,173.76 L249.89,173.29 L251.78,172.78 L253.66,172.22 L255.55,171.61 L257.44,170.94 L259.33,170.19 L261.21,169.35 L263.10,168.42 L264.99,167.37 L266.88,166.08 L268.76,164.39 L269.07,164.02 L269.73,163.10 L270.39,162.04 L270.65,161.59 L271.05,160.89 L271.70,159.70 L272.36,158.51 L272.54,158.19 L273.02,157.27 L273.68,155.93 L274.34,154.42 L274.42,154.21 L274.99,152.67 L275.65,150.57 L276.31,148.30 L276.31,148.30 L276.97,146.02 L277.63,143.71 L278.20,141.59 L278.28,141.27 L278.94,138.64 L279.60,135.76 L280.09,133.63 L280.26,132.90 L280.92,130.06 L281.57,126.93 L281.97,124.90 L282.23,123.52 L282.89,119.68 L283.55,115.29 L283.86,112.89 L284.20,109.89 L284.86,102.83 L285.52,94.86 L285.75,92.08 L286.18,87.04 L286.84,80.32 L287.49,74.22 L287.64,73.01 L288.15,69.09 L288.81,65.00 L289.47,61.37 L289.52,61.10 L290.13,58.74 L290.78,57.38 L291.41,56.38 L291.44,56.34 L292.10,55.60 L292.76,55.29 L293.30,55.54 L293.42,55.68 L294.07,56.80 L294.73,58.22 L295.18,59.21 L295.39,59.77 L296.05,61.91 L296.71,63.90 L297.07,64.62 L297.36,65.00 L298.02,65.74 L298.68,66.11 L298.96,66.09 L299.34,65.86 L299.99,65.12 L300.65,64.20 L300.85,63.94 L301.31,63.23 L301.97,61.98 L302.63,60.69 L302.73,60.50 L303.28,59.64 L303.94,58.82 L304.60,58.05 L304.62,58.03 L305.26,57.50 L305.92,57.36 L306.51,57.96 L306.57,58.07 L307.23,59.47 L307.89,61.40 L308.40,63.90 L308.55,64.79 L309.21,68.92 L309.86,73.41 L310.28,76.69 L310.52,78.73 L311.18,85.35 L311.84,94.70 L312.17,99.04 L312.50,102.44 L313.15,108.61 L313.81,114.05 L314.06,115.93 L314.47,118.92 L315.13,123.32 L315.78,127.30 L315.94,128.21 L316.44,130.95 L317.10,134.38 L317.76,137.69 L317.83,138.05 L318.42,140.86 L319.07,143.81 L319.72,146.41 L319.73,146.46 L320.39,148.80 L321.05,150.98 L321.61,152.69 L321.71,152.98 L322.36,154.84 L323.02,156.55 L323.49,157.71 L323.68,158.15 L324.34,159.66 L325.00,161.06 L325.38,161.83 L325.65,162.34 L326.31,163.48 L326.97,164.50 L327.27,164.94 L327.63,165.46 L329.16,167.45 L331.04,169.41 L332.93,170.92 L334.82,172.20 L336.70,173.15 L338.59,173.78 L340.48,174.31 L342.37,174.74 L344.25,175.05 L346.14,175.23 L348.03,175.35 L349.92,175.44 L351.80,175.53 L353.69,175.60 L355.58,175.66 L357.47,175.71 L359.35,175.76 L361.24,175.81 L363.13,175.87 L365.01,175.93 L366.90,175.99 L368.79,176.04 L370.68,176.10 L372.56,176.15 L374.45,176.20 L376.34,176.24 L378.23,176.29 L380.11,176.33 L381.80,176.37" fill="none" stroke="#ff0000" stroke-width="1.21" stroke-linejoin="round" stroke-linecap="round"/>
<path d="M262.38,168.67 L262.66,168.51 L262.94,168.36 L263.23,168.20 L263.51,168.03 L263.79,167.86 L264.07,167.68 L264.35,167.49 L264.64,167.29 L264.92,167.09 L265.20,166.88 L265.48,166.66 L265.76,166.44 L266.05,166.20 L266.33,165.96 L266.61,165.70 L266.89,165.44 L267.17,165.17 L267.46,164.88 L267.74,164.58 L268.02,164.26 L268.30,163.91 L268.58,163.53 L268.87,163.12 L269.07,162.80 L269.15,162.68 L269.28,162.47 L269.43,162.23 L269.49,162.13 L269.69,161.79 L269.71,161.75 L269.90,161.43 L269.99,161.27 L270.11,161.07 L270.28,160.77 L270.31,160.70 L270.52,160.33 L270.56,160.26 L270.73,159.96 L270.84,159.76 L270.93,159.59 L271.12,159.25 L271.14,159.21 L271.35,158.84 L271.40,158.74 L271.55,158.46 L271.69,158.22 L271.76,158.08 L271.97,157.69 L271.97,157.69 L272.17,157.29 L272.25,157.14 L272.38,156.88 L272.53,156.57 L272.59,156.45 L272.79,156.01 L272.81,155.97 L273.00,155.55 L273.10,155.33 L273.21,155.07 L273.38,154.66 L273.41,154.57 L273.62,154.04 L273.66,153.94 L273.83,153.48 L273.94,153.15 L274.04,152.87 L274.22,152.26 L274.24,152.20 L274.45,151.50 L274.51,151.30 L274.66,150.76 L274.79,150.28 L274.86,150.00 L275.07,149.22 L275.28,148.44 L275.35,148.15 L275.48,147.65 L275.63,147.08 L275.69,146.87 L275.90,146.10 L275.91,146.03 L276.10,145.33 L276.20,144.97 L276.31,144.54 L276.48,143.89 L276.52,143.75 L276.72,142.94 L276.76,142.79 L276.93,142.11 L277.04,141.66 L277.14,141.27 L277.32,140.49 L277.34,140.41 L277.55,139.52 L277.61,139.27 L277.76,138.58 L277.89,137.98 L277.96,137.62 L278.17,136.64 L278.38,135.65 L278.45,135.29 L278.58,134.66 L278.73,133.96 L278.79,133.69 L279.00,132.74 L279.02,132.66 L279.20,131.80 L279.30,131.36 L279.41,130.84 L279.58,130.03 L279.62,129.84 L279.82,128.80 L279.86,128.61 L280.03,127.72 L280.14,127.12 L280.24,126.62 L280.43,125.58 L280.45,125.48 L280.65,124.30 L280.71,123.98 L280.86,123.09 L280.99,122.30 L281.07,121.84 L281.27,120.54 L281.48,119.19 L281.55,118.69 L281.69,117.79 L281.84,116.74 L281.89,116.33 L282.10,114.82 L282.12,114.68 L282.31,113.25 L282.40,112.51 L282.51,111.61 L282.68,110.20 L282.72,109.88 L282.93,108.06 L282.96,107.72 L283.13,106.17 L283.25,105.12 L283.34,104.23 L283.53,102.42 L283.55,102.24 L283.75,100.22 L283.81,99.67 L283.96,98.19 L284.09,96.89 L284.17,96.15 L284.37,94.13 L284.37,94.13 L284.58,92.14 L284.66,91.41 L284.79,90.11 L284.94,88.59 L284.99,88.01 L285.20,85.89 L285.22,85.69 L285.41,83.74 L285.50,82.77 L285.61,81.61 L285.78,79.89 L285.82,79.51 L286.03,77.47 L286.07,77.10 L286.23,75.50 L286.35,74.47 L286.44,73.63 L286.63,72.05 L286.65,71.89 L286.86,70.19 L286.91,69.72 L287.06,68.48 L287.19,67.40 L287.27,66.79 L287.48,65.18" fill="none" stroke="#00e600" stroke-width="1.26" stroke-linejoin="round" stroke-linecap="round"/>
<path d="M298.35,60.26 L298.68,74.07 L299.01,75.00 L299.29,74.38 L299.34,74.24 L299.67,73.03 L299.99,71.55 L300.23,70.41 L300.32,69.96 L300.65,68.43 L300.98,67.10 L301.17,66.34 L301.31,65.76 L301.64,64.35 L301.97,62.92 L302.11,62.31 L302.30,61.50 L302.63,60.12 L302.96,58.81 L303.05,58.46 L303.28,57.62 L303.61,56.52 L303.94,55.41 L303.99,55.25 L304.27,54.33 L304.60,53.33 L304.93,52.47 L304.93,52.47 L305.26,51.79 L305.59,51.32 L305.87,50.98 L305.92,50.92 L306.25,50.61 L306.57,50.46 L306.81,50.61 L306.90,50.80 L307.23,51.95 L307.56,53.60 L307.75,54.64 L307.89,55.44 L308.22,57.44 L308.55,60.04 L308.69,61.27 L308.88,62.97 L309.21,65.95 L309.53,68.86 L309.63,69.70 L309.86,71.83 L310.19,74.91 L310.52,78.16 L310.57,78.65 L310.85,81.64 L311.18,85.52 L311.51,90.09 L311.51,90.09 L311.84,94.80 L312.17,99.01 L312.45,101.97 L312.50,102.44 L312.82,105.63 L313.15,108.61 L313.39,110.63 L313.48,111.41 L313.81,114.05 L314.14,116.54 L314.33,117.91 L314.47,118.92 L314.80,121.18 L315.13,123.32 L315.27,124.21 L315.46,125.36 L315.78,127.30 L316.11,129.16 L316.21,129.68 L316.44,130.95 L316.77,132.69 L317.10,134.38 L317.15,134.62 L317.43,136.05 L317.76,137.69 L318.09,139.30 L318.09,139.30 L318.42,140.86 L318.75,142.37 L319.03,143.61 L319.07,143.81 L319.40,145.17 L319.73,146.46 L319.97,147.32 L320.06,147.65 L320.39,148.80 L320.72,149.91 L320.91,150.52 L321.05,150.98 L321.38,152.00 L321.71,152.98 L321.85,153.39 L322.04,153.93 L322.36,154.84 L322.69,155.71 L322.79,155.96 L323.02,156.55 L323.35,157.36 L323.68,158.15 L323.73,158.26 L324.01,158.91 L324.34,159.66 L324.67,160.37 L324.67,160.37 L325.00,161.06 L325.32,161.72 L325.61,162.25 L325.65,162.34 L325.98,162.93 L326.31,163.48 L326.55,163.85 L326.64,164.00 L326.97,164.50 L327.30,164.98 L327.49,165.26 L327.63,165.46 L328.43,166.54 L329.37,167.70 L330.31,168.72 L331.25,169.58 L332.19,170.35 L333.13,171.07 L334.07,171.73 L335.01,172.31 L335.95,172.81 L336.89,173.22 L337.83,173.54 L338.77,173.83 L339.71,174.11 L340.64,174.35 L341.58,174.58 L342.52,174.77 L343.46,174.94 L344.40,175.07 L345.34,175.17 L346.28,175.24 L347.22,175.30 L348.16,175.35 L349.10,175.40 L350.04,175.45 L350.98,175.49 L351.92,175.53 L352.86,175.57 L353.80,175.60 L354.74,175.63 L355.68,175.66 L356.62,175.69 L357.56,175.71 L358.50,175.74 L359.44,175.76 L360.38,175.79 L361.32,175.82 L362.26,175.84 L363.20,175.87 L364.14,175.90 L365.08,175.93 L366.02,175.96 L366.96,175.99 L367.90,176.02 L368.84,176.04 L369.78,176.07 L370.72,176.10 L371.66,176.12 L372.60,176.15 L373.54,176.17 L374.48,176.20 L375.42,176.22 L376.36,176.24 L377.30,176.27 L378.24,176.29 L379.18,176.31 L380.12,176.33 L381.06,176.35 L381.80,176.37" fill="none" stroke="#0000ff" stroke-width="1.3" stroke-linejoin="round" stroke-linecap="round"/>
<path d="M298.50,198.60 V357.60" stroke="#383838" stroke-width="1" stroke-dasharray="3.05,1.67" fill="none"/>
<path d="M214.50,341.45 L215.16,341.17 L216.13,340.87 L217.09,340.56 L218.06,340.24 L219.02,339.90 L219.98,339.55 L220.95,339.19 L221.91,338.82 L222.88,338.44 L223.84,338.05 L224.81,337.65 L225.77,337.23 L226.73,336.79 L227.70,336.33 L228.66,335.86 L229.63,335.37 L230.59,334.87 L231.56,334.37 L232.52,333.85 L233.48,333.33 L234.45,332.81 L235.41,332.28 L236.38,331.75 L237.34,331.21 L238.31,330.66 L239.27,330.10 L240.23,329.53 L241.20,328.94 L242.16,328.34 L243.13,327.73 L244.09,327.09 L245.06,326.44 L246.02,325.75 L246.99,325.02 L247.95,324.26 L248.91,323.48 L249.88,322.68 L250.84,321.88 L251.81,321.08 L252.77,320.28 L253.74,319.51 L254.70,318.76 L255.66,318.04 L256.63,317.32 L257.59,316.60 L258.56,315.89 L259.52,315.19 L260.49,314.50 L261.45,313.82 L262.41,313.15 L263.38,312.50 L264.34,311.88 L265.31,311.27 L266.27,310.68 L267.24,310.09 L268.20,309.50 L269.07,308.99 L269.16,308.93 L269.42,308.79 L269.77,308.59 L270.12,308.40 L270.13,308.39 L270.46,308.21 L270.81,308.02 L271.09,307.88 L271.16,307.84 L271.51,307.67 L271.85,307.50 L272.06,307.40 L272.20,307.34 L272.55,307.18 L272.90,307.03 L273.02,306.98 L273.25,306.88 L273.59,306.75 L273.94,306.61 L273.99,306.59 L274.29,306.47 L274.64,306.34 L274.95,306.22 L274.98,306.21 L275.33,306.07 L275.68,305.94 L275.91,305.85 L276.03,305.81 L276.38,305.68 L276.72,305.56 L276.88,305.50 L277.07,305.43 L277.42,305.31 L277.77,305.18 L277.84,305.16 L278.11,305.06 L278.46,304.94 L278.81,304.83 L278.81,304.83 L279.16,304.72 L279.51,304.60 L279.77,304.52 L279.85,304.50 L280.20,304.39 L280.55,304.29 L280.74,304.23 L280.90,304.19 L281.24,304.09 L281.59,304.00 L281.70,303.97 L281.94,303.91 L282.29,303.82 L282.64,303.74 L282.67,303.73 L282.98,303.66 L283.33,303.58 L283.63,303.52 L283.68,303.51 L284.03,303.44 L284.37,303.38 L284.59,303.34 L284.72,303.32 L285.07,303.26 L285.42,303.21 L285.56,303.20 L285.76,303.17 L286.11,303.13 L286.46,303.09 L286.52,303.08 L286.81,303.05 L287.16,303.01 L287.49,302.98 L287.50,302.97 L287.85,302.94 L288.20,302.91 L288.45,302.89 L288.55,302.88 L288.89,302.85 L289.24,302.82 L289.42,302.80 L289.59,302.79 L289.94,302.76 L290.29,302.74 L290.38,302.73 L290.63,302.71 L290.98,302.69 L291.33,302.66 L291.34,302.66 L291.68,302.64 L292.02,302.61 L292.31,302.60 L292.37,302.59 L292.72,302.57 L293.07,302.54 L293.27,302.53 L293.42,302.52 L293.76,302.50 L294.11,302.48 L294.24,302.47 L294.46,302.45 L294.81,302.43 L295.15,302.40 L295.20,302.40 L295.50,302.38 L295.85,302.35 L296.17,302.33 L296.20,302.33 L296.55,302.30 L296.89,302.27 L297.13,302.24 L297.24,302.23 L297.59,302.20 L297.94,302.17 L298.09,302.16 L298.28,302.16 L298.63,302.16 L298.98,302.16 L299.06,302.17 L299.33,302.18 L299.68,302.19 L300.02,302.22" fill="none" stroke="#ff0000" stroke-width="1.02" stroke-linejoin="round" stroke-linecap="round"/>
<path d="M214.50,341.00 L216.08,340.44 L217.96,339.82 L219.84,339.15 L221.72,338.44 L223.61,337.69 L225.49,336.90 L227.37,336.04 L229.25,335.11 L231.13,334.14 L233.01,333.14 L234.90,332.11 L236.78,331.07 L238.66,330.00 L240.54,328.89 L242.42,327.73 L244.30,326.50 L246.19,325.18 L248.07,323.71 L249.95,322.17 L251.83,320.61 L253.71,319.08 L255.59,317.64 L257.48,316.24 L259.36,314.86 L261.24,313.51 L263.12,312.23 L265.00,311.01 L266.88,309.85 L268.77,308.72 L269.07,308.54 L269.73,308.16 L270.39,307.80 L270.65,307.66 L271.05,307.45 L271.70,307.12 L272.36,306.81 L272.53,306.74 L273.02,306.53 L273.68,306.26 L274.34,306.01 L274.41,305.98 L274.99,305.75 L275.65,305.50 L276.29,305.26 L276.31,305.26 L276.97,305.02 L277.63,304.78 L278.17,304.59 L278.28,304.55 L278.94,304.34 L279.60,304.12 L280.06,303.98 L280.26,303.92 L280.92,303.73 L281.57,303.55 L281.94,303.46 L282.23,303.38 L282.89,303.23 L283.55,303.09 L283.82,303.03 L284.20,302.96 L284.86,302.85 L285.52,302.75 L285.70,302.73 L286.18,302.67 L286.84,302.59 L287.49,302.53 L287.58,302.52 L288.15,302.46 L288.81,302.40 L289.46,302.35 L289.47,302.35 L290.13,302.30 L290.78,302.25 L291.35,302.21 L291.44,302.20 L292.10,302.16 L292.76,302.12 L293.23,302.08 L293.42,302.07 L294.07,302.03 L294.73,301.98 L295.11,301.96 L295.39,301.94 L296.05,301.89 L296.71,301.83 L296.99,301.81 L297.36,301.77 L298.02,301.71 L298.68,301.71 L298.87,301.72 L299.34,301.75 L299.99,301.81 L300.65,301.89 L300.75,301.90 L301.31,301.98 L301.97,302.07 L302.63,302.15 L302.64,302.16 L303.28,302.24 L303.94,302.34 L304.52,302.43 L304.60,302.44 L305.26,302.55 L305.92,302.65 L306.40,302.73 L306.57,302.76 L307.23,302.87 L307.89,302.98 L308.28,303.04 L308.55,303.08 L309.21,303.18 L309.86,303.27 L310.16,303.31 L310.52,303.36 L311.18,303.45 L311.84,303.55 L312.04,303.58 L312.50,303.64 L313.15,303.74 L313.81,303.84 L313.93,303.86 L314.47,303.95 L315.13,304.06 L315.78,304.19 L315.81,304.19 L316.44,304.32 L317.10,304.45 L317.69,304.58 L317.76,304.60 L318.42,304.75 L319.07,304.91 L319.57,305.03 L319.73,305.07 L320.39,305.25 L321.05,305.44 L321.45,305.56 L321.71,305.64 L322.36,305.85 L323.02,306.07 L323.33,306.18 L323.68,306.31 L324.34,306.58 L325.00,306.88 L325.22,306.99 L325.65,307.22 L326.31,307.58 L326.97,307.96 L327.10,308.04 L327.63,308.36 L328.98,309.29 L330.86,310.80 L332.74,312.43 L334.62,314.28 L336.51,316.20 L338.39,318.00 L340.27,319.69 L342.15,321.31 L344.03,322.89 L345.91,324.42 L347.80,325.91 L349.68,327.32 L351.56,328.67 L353.44,329.98 L355.32,331.21 L357.20,332.31 L359.09,333.28 L360.97,334.16 L362.85,334.97 L364.73,335.72 L366.61,336.41 L368.49,337.06 L370.38,337.67 L372.26,338.23 L374.14,338.75 L376.02,339.26 L377.90,339.73 L379.78,340.17 L381.67,340.57" fill="none" stroke="#00e600" stroke-width="1.26" stroke-linejoin="round" stroke-linecap="round"/>
<path d="M298.35,300.94 L298.68,301.82 L299.01,302.44 L299.29,302.67 L299.34,302.68 L299.67,302.46 L299.99,301.89 L300.22,301.43 L300.32,301.24 L300.65,300.75 L300.98,300.69 L301.16,300.90 L301.31,301.16 L301.64,301.83 L301.97,302.33 L302.09,302.39 L302.30,302.34 L302.63,302.07 L302.96,301.74 L303.03,301.68 L303.28,301.53 L303.61,301.59 L303.94,301.84 L303.97,301.87 L304.27,302.21 L304.60,302.62 L304.90,302.96 L304.93,302.99 L305.26,303.22 L305.59,303.27 L305.84,303.27 L305.92,303.27 L306.25,303.27 L306.57,303.27 L306.78,303.27 L306.90,303.27 L307.23,303.27 L307.56,303.27 L307.71,303.27 L307.89,303.27 L308.22,303.27 L308.55,303.27 L308.65,303.27 L308.88,303.28 L309.21,303.30 L309.53,303.33 L309.58,303.33 L309.86,303.36 L310.19,303.40 L310.52,303.44 L310.52,303.44 L310.85,303.48 L311.18,303.53 L311.46,303.58 L311.51,303.59 L311.84,303.64 L312.17,303.70 L312.39,303.75 L312.50,303.77 L312.82,303.83 L313.15,303.90 L313.33,303.93 L313.48,303.97 L313.81,304.03 L314.14,304.10 L314.26,304.13 L314.47,304.17 L314.80,304.24 L315.13,304.31 L315.20,304.32 L315.46,304.37 L315.78,304.44 L316.11,304.50 L316.14,304.51 L316.44,304.57 L316.77,304.64 L317.07,304.70 L317.10,304.70 L317.43,304.78 L317.76,304.85 L318.01,304.90 L318.09,304.92 L318.42,305.00 L318.75,305.08 L318.94,305.13 L319.07,305.16 L319.40,305.24 L319.73,305.32 L319.88,305.36 L320.06,305.41 L320.39,305.50 L320.72,305.59 L320.82,305.62 L321.05,305.69 L321.38,305.79 L321.71,305.89 L321.75,305.90 L322.04,305.99 L322.36,306.10 L322.69,306.20 L322.69,306.21 L323.02,306.32 L323.35,306.43 L323.63,306.53 L323.68,306.56 L324.01,306.69 L324.34,306.83 L324.56,306.93 L324.67,306.97 L325.00,307.13 L325.32,307.30 L325.50,307.38 L325.65,307.47 L325.98,307.64 L326.31,307.83 L326.43,307.90 L326.64,308.02 L326.97,308.21 L327.30,308.41 L327.37,308.45 L327.63,308.61 L328.31,309.06 L329.24,309.74 L330.18,310.48 L331.11,311.26 L332.05,312.06 L332.99,312.91 L333.92,313.83 L334.86,314.77 L335.80,315.73 L336.73,316.68 L337.67,317.59 L338.60,318.45 L339.54,319.29 L340.48,320.12 L341.41,320.93 L342.35,321.73 L343.28,322.52 L344.22,323.29 L345.16,324.06 L346.09,324.82 L347.03,325.56 L347.96,326.29 L348.90,327.00 L349.84,327.69 L350.77,328.36 L351.71,329.03 L352.65,329.68 L353.58,330.32 L354.52,330.94 L355.45,331.54 L356.39,332.10 L357.33,332.62 L358.26,333.11 L359.20,333.58 L360.13,334.03 L361.07,334.45 L362.01,334.86 L362.94,335.26 L363.88,335.64 L364.82,336.00 L365.75,336.35 L366.69,336.69 L367.62,337.02 L368.56,337.34 L369.50,337.64 L370.43,337.93 L371.37,338.22 L372.30,338.49 L373.24,338.76 L374.18,339.01 L375.11,339.27 L376.05,339.51 L376.98,339.75 L377.92,339.98 L378.86,340.21 L379.79,340.42 L380.73,340.62 L381.67,340.82" fill="none" stroke="#0000ff" stroke-width="1.3" stroke-linejoin="round" stroke-linecap="round"/>
<path d="M214.50,345.33 L216.33,345.23 L218.21,345.11 L220.09,344.97 L221.97,344.81 L223.86,344.64 L225.74,344.46 L227.62,344.27 L229.50,344.06 L231.38,343.85 L233.26,343.63 L235.15,343.41 L237.03,343.17 L238.91,342.91 L240.79,342.62 L242.67,342.30 L244.55,341.94 L246.44,341.54 L248.32,341.08 L250.20,340.56 L252.08,339.97 L253.96,339.31 L255.84,338.59 L257.73,337.79 L259.61,336.85 L261.49,335.68 L263.37,334.21 L265.25,331.97 L267.13,328.63 L269.02,324.43 L269.32,323.58 L269.98,321.52 L270.64,319.23 L270.90,318.28 L271.30,316.77 L271.95,314.17 L272.61,311.17 L272.78,310.35 L273.27,307.90 L273.93,304.60 L274.59,301.49 L274.66,301.15 L275.24,298.71 L275.90,296.12 L276.54,293.63 L276.56,293.57 L277.22,290.87 L277.88,287.87 L278.42,285.09 L278.53,284.51 L279.19,280.97 L279.85,277.42 L280.31,274.91 L280.51,273.78 L281.17,270.05 L281.82,266.37 L282.19,264.41 L282.48,262.90 L283.14,259.64 L283.80,256.32 L284.07,255.02 L284.45,253.34 L285.11,251.12 L285.77,249.62 L285.95,249.24 L286.43,248.32 L287.09,247.45 L287.74,247.31 L287.83,247.39 L288.40,248.48 L289.06,250.50 L289.71,252.75 L289.72,252.76 L290.38,255.85 L291.03,259.39 L291.60,262.33 L291.69,262.82 L292.35,266.34 L293.01,269.91 L293.48,272.36 L293.67,273.30 L294.32,276.41 L294.98,279.56 L295.36,281.28 L295.64,282.45 L296.30,284.61 L296.96,285.92 L297.24,286.41 L297.61,286.92 L298.27,287.25 L298.93,286.61 L299.12,286.27 L299.59,285.29 L300.24,283.69 L300.90,281.73 L301.00,281.37 L301.56,279.13 L302.22,276.13 L302.88,272.98 L302.89,272.93 L303.53,269.40 L304.19,265.43 L304.77,261.91 L304.85,261.42 L305.51,257.67 L306.17,253.89 L306.65,251.16 L306.82,250.22 L307.48,247.04 L308.14,244.53 L308.53,243.07 L308.80,242.14 L309.46,240.52 L310.11,240.53 L310.41,241.23 L310.77,242.41 L311.43,244.69 L312.09,246.91 L312.29,247.71 L312.75,249.75 L313.40,254.51 L314.06,260.89 L314.18,261.97 L314.72,266.44 L315.38,271.32 L316.03,275.60 L316.06,275.73 L316.69,279.03 L317.35,281.95 L317.94,284.43 L318.01,284.72 L318.67,287.60 L319.32,290.45 L319.82,292.58 L319.98,293.27 L320.64,296.10 L321.30,299.00 L321.70,300.84 L321.96,302.01 L322.61,305.03 L323.27,307.93 L323.58,309.23 L323.93,310.59 L324.59,312.99 L325.25,315.28 L325.47,316.03 L325.90,317.46 L326.56,319.47 L327.22,321.28 L327.35,321.61 L327.88,322.87 L329.23,325.73 L331.11,329.03 L332.99,331.61 L334.87,333.78 L336.76,335.57 L338.64,336.95 L340.52,338.01 L342.40,338.89 L344.28,339.70 L346.16,340.48 L348.05,341.19 L349.93,341.79 L351.81,342.26 L353.69,342.68 L355.57,343.04 L357.45,343.34 L359.34,343.59 L361.22,343.81 L363.10,344.00 L364.98,344.16 L366.86,344.29 L368.74,344.39 L370.63,344.49 L372.51,344.60 L374.39,344.73 L376.27,344.87 L378.15,345.02 L380.03,345.17 L381.80,345.33" fill="none" stroke="#ff0000" stroke-width="1.21" stroke-linejoin="round" stroke-linecap="round"/>
<path d="M214.50,345.08 L216.08,344.98 L217.96,344.86 L219.84,344.72 L221.72,344.56 L223.61,344.39 L225.49,344.21 L227.37,344.02 L229.25,343.81 L231.13,343.60 L233.01,343.38 L234.90,343.16 L236.78,342.92 L238.66,342.66 L240.54,342.37 L242.42,342.05 L244.30,341.69 L246.19,341.29 L248.07,340.83 L249.95,340.31 L251.83,339.72 L253.71,339.06 L255.59,338.34 L257.48,337.54 L259.36,336.60 L261.24,335.43 L263.12,333.96 L265.00,331.72 L266.88,328.38 L268.77,324.18 L269.07,323.33 L269.73,321.27 L270.39,318.98 L270.65,318.03 L271.05,316.52 L271.70,313.92 L272.36,310.92 L272.53,310.10 L273.02,307.65 L273.68,304.35 L274.34,301.24 L274.41,300.90 L274.99,298.46 L275.65,295.87 L276.29,293.38 L276.31,293.32 L276.97,290.62 L277.63,287.64 L278.17,284.99 L278.28,284.44 L278.94,280.97 L279.60,277.11 L280.06,273.99 L280.26,272.48 L280.92,267.29 L281.57,262.10 L281.94,259.44 L282.23,257.48 L282.89,253.10 L283.55,248.96 L283.82,247.41 L284.20,245.48 L284.86,242.92 L285.52,240.63 L285.70,240.11 L286.18,239.16 L286.84,239.29 L287.49,241.02 L287.58,241.33 L288.15,243.48 L288.81,246.31 L289.46,250.08 L289.47,250.10 L290.13,254.14 L290.78,257.79 L291.35,260.82 L291.44,261.34 L292.10,264.84 L292.76,268.30 L293.23,270.82 L293.42,271.84 L294.07,275.35 L294.73,278.56 L295.11,280.17 L295.39,281.32 L296.05,283.91 L296.71,286.06 L296.99,286.79 L297.36,287.57 L298.02,288.71 L298.68,288.80 L298.87,288.66 L299.34,288.13 L299.99,287.06 L300.65,285.09 L300.75,284.66 L301.31,281.91 L301.97,278.32 L302.63,274.71 L302.64,274.65 L303.28,270.65 L303.94,266.44 L304.52,262.89 L304.60,262.40 L305.26,258.39 L305.92,254.41 L306.40,251.91 L306.57,251.16 L307.23,248.76 L307.89,246.58 L308.28,245.59 L308.55,245.11 L309.21,245.05 L309.86,247.40 L310.16,248.64 L310.52,249.70 L311.18,249.90 L311.84,249.90 L312.04,250.11 L312.50,253.05 L313.15,260.33 L313.81,266.28 L313.93,267.15 L314.47,271.15 L315.13,275.41 L315.78,278.83 L315.81,278.94 L316.44,281.75 L317.10,284.52 L317.69,287.11 L317.76,287.42 L318.42,290.34 L319.07,293.21 L319.57,295.30 L319.73,295.96 L320.39,298.56 L321.05,301.07 L321.45,302.57 L321.71,303.50 L322.36,305.87 L323.02,308.17 L323.33,309.24 L323.68,310.41 L324.34,312.63 L325.00,314.88 L325.22,315.62 L325.65,317.07 L326.31,319.14 L326.97,321.01 L327.10,321.35 L327.63,322.62 L328.98,325.48 L330.86,328.78 L332.74,331.36 L334.62,333.53 L336.51,335.32 L338.39,336.70 L340.27,337.76 L342.15,338.64 L344.03,339.45 L345.91,340.23 L347.80,340.94 L349.68,341.54 L351.56,342.01 L353.44,342.43 L355.32,342.79 L357.20,343.09 L359.09,343.34 L360.97,343.56 L362.85,343.75 L364.73,343.91 L366.61,344.04 L368.49,344.14 L370.38,344.24 L372.26,344.35 L374.14,344.48 L376.02,344.62 L377.90,344.77 L379.78,344.92 L381.67,345.08" fill="none" stroke="#00e600" stroke-width="1.26" stroke-linejoin="round" stroke-linecap="round"/>
<path d="M298.35,288.47 L298.68,291.42 L299.01,293.51 L299.29,294.66 L299.34,294.86 L299.67,295.87 L299.99,296.15 L300.22,295.59 L300.32,295.16 L300.65,293.31 L300.98,291.40 L301.16,290.26 L301.31,289.18 L301.64,286.61 L301.97,283.84 L302.09,282.76 L302.30,281.00 L302.63,278.21 L302.96,275.26 L303.03,274.57 L303.28,272.19 L303.61,269.11 L303.94,266.18 L303.97,265.97 L304.27,263.50 L304.60,261.01 L304.90,258.79 L304.93,258.60 L305.26,256.28 L305.59,254.05 L305.84,252.39 L305.92,251.89 L306.25,249.82 L306.57,247.82 L306.78,246.63 L306.90,245.87 L307.23,243.91 L307.56,241.97 L307.71,241.12 L307.89,240.14 L308.22,238.46 L308.55,237.01 L308.65,236.63 L308.88,235.84 L309.21,234.72 L309.53,233.75 L309.58,233.64 L309.86,233.20 L310.19,233.43 L310.52,234.67 L310.52,234.67 L310.85,236.50 L311.18,238.43 L311.46,240.27 L311.51,240.67 L311.84,243.38 L312.17,246.33 L312.39,248.35 L312.50,249.25 L312.82,252.09 L313.15,255.03 L313.33,256.61 L313.48,258.00 L313.81,260.90 L314.14,263.64 L314.26,264.61 L314.47,266.19 L314.80,268.68 L315.13,271.07 L315.20,271.58 L315.46,273.31 L315.78,275.35 L316.11,277.15 L316.14,277.27 L316.44,278.78 L316.77,280.28 L317.07,281.58 L317.10,281.70 L317.43,283.09 L317.76,284.47 L318.01,285.56 L318.09,285.91 L318.42,287.35 L318.75,288.78 L318.94,289.64 L319.07,290.20 L319.40,291.61 L319.73,293.02 L319.88,293.66 L320.06,294.43 L320.39,295.85 L320.72,297.28 L320.82,297.71 L321.05,298.75 L321.38,300.25 L321.71,301.76 L321.75,301.98 L322.04,303.28 L322.36,304.78 L322.69,306.23 L322.69,306.25 L323.02,307.68 L323.35,309.05 L323.63,310.13 L323.68,310.34 L324.01,311.56 L324.34,312.74 L324.56,313.53 L324.67,313.90 L325.00,315.03 L325.32,316.14 L325.50,316.70 L325.65,317.21 L325.98,318.23 L326.31,319.22 L326.43,319.57 L326.64,320.15 L326.97,321.03 L327.30,321.85 L327.37,322.02 L327.63,322.62 L328.31,324.10 L329.24,325.99 L330.18,327.67 L331.11,329.17 L332.05,330.48 L332.99,331.66 L333.92,332.76 L334.86,333.78 L335.80,334.69 L336.73,335.51 L337.67,336.22 L338.60,336.83 L339.54,337.38 L340.48,337.87 L341.41,338.31 L342.35,338.73 L343.28,339.13 L344.22,339.53 L345.16,339.92 L346.09,340.30 L347.03,340.66 L347.96,341.00 L348.90,341.31 L349.84,341.58 L350.77,341.82 L351.71,342.05 L352.65,342.26 L353.58,342.46 L354.52,342.64 L355.45,342.81 L356.39,342.97 L357.33,343.11 L358.26,343.24 L359.20,343.36 L360.13,343.47 L361.07,343.57 L362.01,343.67 L362.94,343.76 L363.88,343.84 L364.82,343.92 L365.75,343.98 L366.69,344.04 L367.62,344.10 L368.56,344.15 L369.50,344.19 L370.43,344.24 L371.37,344.30 L372.30,344.36 L373.24,344.42 L374.18,344.48 L375.11,344.55 L376.05,344.62 L376.98,344.69 L377.92,344.77 L378.86,344.84 L379.79,344.92 L380.73,345.00 L381.67,345.08" fill="none" stroke="#0000ff" stroke-width="1.3" stroke-linejoin="round" stroke-linecap="round"/>
<path d="M298.50,400.10 V560.00" stroke="#383838" stroke-width="1" stroke-dasharray="3.05,1.67" fill="none"/>
<path d="M232.52,546.55 L233.28,546.40 L234.03,546.25 L234.79,546.10 L235.55,545.94 L236.31,545.79 L237.07,545.64 L237.83,545.49 L238.59,545.34 L239.34,545.19 L240.10,545.04 L240.86,544.89 L241.62,544.74 L242.38,544.59 L243.14,544.44 L243.89,544.28 L244.65,544.13 L245.41,543.98 L246.17,543.84 L246.93,543.71 L247.69,543.58 L248.45,543.45 L249.20,543.31 L249.96,543.18 L250.72,543.04 L251.48,542.90 L252.24,542.74 L253.00,542.58 L253.76,542.40 L254.51,542.20 L255.27,541.99 L256.03,541.75 L256.79,541.47 L257.55,541.17 L258.31,540.84 L259.06,540.49 L259.82,540.11 L260.58,539.71 L261.34,539.29 L262.10,538.86 L262.86,538.41 L263.62,537.94 L264.37,537.46 L265.13,536.98 L265.89,536.47 L266.65,535.94 L267.41,535.38 L268.17,534.78 L268.92,534.16 L269.07,534.03 L269.42,533.74 L269.68,533.51 L269.77,533.43 L270.12,533.12 L270.44,532.83 L270.46,532.81 L270.81,532.48 L271.16,532.16 L271.20,532.12 L271.51,531.82 L271.85,531.48 L271.96,531.38 L272.20,531.14 L272.55,530.79 L272.72,530.62 L272.90,530.43 L273.25,530.07 L273.48,529.83 L273.59,529.70 L273.94,529.33 L274.23,529.01 L274.29,528.95 L274.64,528.57 L274.98,528.18 L274.99,528.17 L275.33,527.78 L275.68,527.38 L275.75,527.29 L276.03,526.95 L276.38,526.50 L276.51,526.32 L276.72,526.03 L277.07,525.54 L277.27,525.26 L277.42,525.04 L277.77,524.52 L278.03,524.13 L278.11,523.99 L278.46,523.46 L278.79,522.95 L278.81,522.91 L279.16,522.36 L279.51,521.81 L279.54,521.75 L279.85,521.26 L280.20,520.70 L280.30,520.54 L280.55,520.15 L280.90,519.61 L281.06,519.35 L281.24,519.07 L281.59,518.54 L281.82,518.20 L281.94,518.02 L282.29,517.48 L282.58,517.03 L282.64,516.94 L282.98,516.38 L283.33,515.82 L283.34,515.81 L283.68,515.26 L284.03,514.70 L284.09,514.59 L284.37,514.14 L284.72,513.59 L284.85,513.38 L285.07,513.04 L285.42,512.49 L285.61,512.20 L285.76,511.96 L286.11,511.44 L286.37,511.07 L286.46,510.94 L286.81,510.45 L287.13,510.02 L287.16,509.98 L287.50,509.53 L287.85,509.11 L287.89,509.06 L288.20,508.68 L288.55,508.26 L288.65,508.15 L288.89,507.85 L289.24,507.44 L289.40,507.25 L289.59,507.03 L289.94,506.63 L290.16,506.38 L290.29,506.24 L290.63,505.86 L290.92,505.56 L290.98,505.49 L291.33,505.14 L291.68,504.80 L291.68,504.79 L292.02,504.47 L292.37,504.16 L292.44,504.10 L292.72,503.87 L293.07,503.59 L293.20,503.50 L293.42,503.34 L293.76,503.11 L293.96,502.99 L294.11,502.89 L294.46,502.67 L294.71,502.51 L294.81,502.45 L295.15,502.23 L295.47,502.04 L295.50,502.02 L295.85,501.82 L296.20,501.63 L296.23,501.61 L296.55,501.46 L296.89,501.31 L296.99,501.28 L297.24,501.19 L297.59,501.09 L297.75,501.06 L297.94,501.03 L298.28,501.01 L298.51,501.01 L298.63,501.01 L298.98,501.03 L299.26,501.06 L299.33,501.06 L299.68,501.12 L300.02,501.19" fill="none" stroke="#ff0000" stroke-width="1.02" stroke-linejoin="round" stroke-linecap="round"/>
<path d="M232.52,546.10 L234.00,545.80 L235.48,545.51 L236.96,545.21 L238.44,544.92 L239.92,544.63 L241.41,544.33 L242.89,544.04 L244.37,543.74 L245.85,543.45 L247.33,543.19 L248.81,542.93 L250.29,542.67 L251.77,542.39 L253.26,542.07 L254.74,541.69 L256.22,541.23 L257.70,540.66 L259.18,539.98 L260.66,539.22 L262.14,538.38 L263.62,537.49 L265.11,536.55 L266.59,535.53 L268.07,534.41 L269.07,533.58 L269.55,533.17 L269.73,533.01 L270.39,532.42 L271.03,531.83 L271.05,531.81 L271.70,531.18 L272.36,530.53 L272.51,530.38 L273.02,529.86 L273.68,529.16 L273.99,528.82 L274.34,528.45 L274.99,527.72 L275.47,527.17 L275.65,526.96 L276.31,526.14 L276.96,525.26 L276.97,525.24 L277.63,524.28 L278.28,523.28 L278.44,523.05 L278.94,522.25 L279.60,521.21 L279.92,520.70 L280.26,520.16 L280.92,519.13 L281.40,518.39 L281.57,518.12 L282.23,517.12 L282.88,516.10 L282.89,516.08 L283.55,515.03 L284.20,513.96 L284.36,513.71 L284.86,512.91 L285.52,511.89 L285.84,511.40 L286.18,510.90 L286.84,509.96 L287.32,509.31 L287.49,509.09 L288.15,508.29 L288.81,507.50 L288.81,507.50 L289.47,506.72 L290.13,505.97 L290.29,505.79 L290.78,505.25 L291.44,504.58 L291.77,504.26 L292.10,503.95 L292.76,503.39 L293.25,503.01 L293.42,502.89 L294.07,502.47 L294.73,502.05 L294.73,502.05 L295.39,501.64 L296.05,501.26 L296.21,501.17 L296.71,500.94 L297.36,500.70 L297.69,500.62 L298.02,500.57 L298.68,500.57 L299.17,500.63 L299.34,500.66 L299.99,500.82 L300.65,501.04 L300.66,501.04 L301.31,501.31 L301.97,501.60 L302.14,501.68 L302.63,501.99 L303.28,502.60 L303.62,502.98 L303.94,503.38 L304.60,504.30 L305.10,505.06 L305.26,505.31 L305.92,506.37 L306.57,507.44 L306.58,507.45 L307.23,508.48 L307.89,509.46 L308.06,509.70 L308.55,510.35 L309.21,511.24 L309.54,511.70 L309.86,512.13 L310.52,513.03 L311.02,513.71 L311.18,513.92 L311.84,514.81 L312.50,515.70 L312.51,515.72 L313.15,516.59 L313.81,517.47 L313.99,517.71 L314.47,518.35 L315.13,519.24 L315.47,519.70 L315.78,520.12 L316.44,521.01 L316.95,521.69 L317.10,521.89 L317.76,522.77 L318.42,523.64 L318.43,523.66 L319.07,524.50 L319.73,525.35 L319.91,525.57 L320.39,526.17 L321.05,527.00 L321.39,527.44 L321.71,527.84 L322.36,528.67 L322.87,529.32 L323.02,529.50 L323.68,530.31 L324.34,531.10 L324.36,531.12 L325.00,531.85 L325.65,532.55 L325.84,532.74 L326.31,533.20 L326.97,533.80 L327.32,534.10 L327.63,534.36 L328.80,535.31 L330.28,536.39 L331.76,537.38 L333.24,538.27 L334.72,539.13 L336.21,539.92 L337.69,540.59 L339.17,541.11 L340.65,541.53 L342.13,541.91 L343.61,542.24 L345.09,542.54 L346.57,542.82 L348.06,543.10 L349.54,543.38 L351.02,543.65 L352.50,543.92 L353.98,544.18 L355.46,544.43 L356.94,544.67 L358.42,544.90 L359.91,545.12 L361.39,545.33 L362.87,545.53 L364.35,545.71" fill="none" stroke="#00e600" stroke-width="1.26" stroke-linejoin="round" stroke-linecap="round"/>
<path d="M298.35,502.03 L298.68,501.83 L299.01,501.66 L299.09,501.63 L299.34,501.53 L299.67,501.45 L299.83,501.43 L299.99,501.42 L300.32,501.43 L300.57,501.46 L300.65,501.48 L300.98,501.55 L301.31,501.64 L301.32,501.64 L301.64,501.74 L301.97,501.85 L302.06,501.88 L302.30,501.99 L302.63,502.19 L302.80,502.32 L302.96,502.45 L303.28,502.77 L303.54,503.05 L303.61,503.13 L303.94,503.54 L304.27,503.98 L304.28,504.00 L304.60,504.46 L304.93,504.96 L305.02,505.11 L305.26,505.48 L305.59,506.02 L305.77,506.31 L305.92,506.56 L306.25,507.11 L306.51,507.55 L306.57,507.66 L306.90,508.20 L307.23,508.72 L307.25,508.75 L307.56,509.23 L307.89,509.71 L307.99,509.85 L308.22,510.16 L308.55,510.60 L308.73,510.85 L308.88,511.05 L309.21,511.49 L309.47,511.85 L309.53,511.94 L309.86,512.38 L310.19,512.83 L310.22,512.86 L310.52,513.28 L310.85,513.72 L310.96,513.87 L311.18,514.17 L311.51,514.61 L311.70,514.87 L311.84,515.06 L312.17,515.51 L312.44,515.88 L312.50,515.95 L312.82,516.40 L313.15,516.84 L313.18,516.88 L313.48,517.28 L313.81,517.72 L313.92,517.87 L314.14,518.16 L314.47,518.60 L314.66,518.87 L314.80,519.05 L315.13,519.49 L315.41,519.86 L315.46,519.93 L315.78,520.37 L316.11,520.82 L316.15,520.86 L316.44,521.26 L316.77,521.70 L316.89,521.86 L317.10,522.14 L317.43,522.58 L317.63,522.85 L317.76,523.02 L318.09,523.46 L318.37,523.83 L318.42,523.89 L318.75,524.32 L319.07,524.75 L319.11,524.80 L319.40,525.18 L319.73,525.60 L319.86,525.75 L320.06,526.01 L320.39,526.42 L320.60,526.68 L320.72,526.84 L321.05,527.25 L321.34,527.62 L321.38,527.67 L321.71,528.09 L322.04,528.51 L322.08,528.56 L322.36,528.92 L322.69,529.34 L322.82,529.50 L323.02,529.75 L323.35,530.16 L323.56,530.42 L323.68,530.56 L324.01,530.96 L324.30,531.31 L324.34,531.35 L324.67,531.73 L325.00,532.10 L325.05,532.15 L325.32,532.45 L325.65,532.80 L325.79,532.94 L325.98,533.13 L326.31,533.45 L326.53,533.65 L326.64,533.75 L326.97,534.05 L327.27,534.31 L327.30,534.33 L327.63,534.61 L328.01,534.93 L328.75,535.52 L329.50,536.08 L330.24,536.61 L330.98,537.12 L331.72,537.60 L332.46,538.06 L333.20,538.50 L333.95,538.94 L334.69,539.36 L335.43,539.77 L336.17,540.15 L336.91,540.50 L337.65,540.82 L338.39,541.11 L339.14,541.35 L339.88,541.57 L340.62,541.77 L341.36,541.97 L342.10,542.15 L342.84,542.32 L343.59,542.48 L344.33,542.64 L345.07,542.79 L345.81,542.93 L346.55,543.07 L347.29,543.21 L348.04,543.35 L348.78,543.48 L349.52,543.62 L350.26,543.76 L351.00,543.90 L351.74,544.03 L352.48,544.17 L353.23,544.30 L353.97,544.43 L354.71,544.55 L355.45,544.68 L356.19,544.80 L356.93,544.92 L357.68,545.04 L358.42,545.15 L359.16,545.26 L359.90,545.37 L360.64,545.48 L361.38,545.58 L362.13,545.68 L362.87,545.78 L363.61,545.87 L364.35,545.96" fill="none" stroke="#0000ff" stroke-width="1.3" stroke-linejoin="round" stroke-linecap="round"/>
<path d="M237.95,544.05 L239.32,544.00 L240.69,543.96 L242.05,543.91 L243.42,543.86 L244.78,543.82 L246.15,543.77 L247.51,543.72 L248.88,543.67 L250.24,543.62 L251.61,543.58 L252.98,543.53 L254.34,543.48 L255.71,543.43 L257.07,543.38 L258.44,543.34 L259.80,543.29 L261.17,543.25 L262.54,543.20 L263.90,543.14 L265.27,543.07 L266.63,542.99 L268.00,542.90 L269.32,542.79 L269.36,542.79 L269.98,542.73 L270.64,542.67 L270.73,542.66 L271.30,542.60 L271.95,542.53 L272.10,542.51 L272.61,542.45 L273.27,542.36 L273.46,542.33 L273.93,542.27 L274.59,542.17 L274.83,542.13 L275.24,542.06 L275.90,541.95 L276.19,541.89 L276.56,541.80 L277.22,541.63 L277.56,541.53 L277.88,541.42 L278.53,541.18 L278.92,541.02 L279.19,540.91 L279.85,540.60 L280.29,540.38 L280.51,540.27 L281.17,539.90 L281.65,539.60 L281.82,539.50 L282.48,538.97 L283.02,538.39 L283.14,538.25 L283.80,537.43 L284.39,536.66 L284.45,536.57 L285.11,535.59 L285.75,534.38 L285.77,534.34 L286.43,532.48 L287.09,529.73 L287.12,529.59 L287.74,526.68 L288.40,522.75 L288.48,522.11 L289.06,516.27 L289.72,509.51 L289.85,508.16 L290.38,502.97 L291.03,496.95 L291.21,495.17 L291.69,489.79 L292.35,478.66 L292.58,473.51 L293.01,464.28 L293.67,450.82 L293.95,446.40 L294.32,441.06 L294.98,434.58 L295.31,432.27 L295.64,431.13 L296.30,433.20 L296.68,435.29 L296.96,436.74 L297.61,440.70 L298.04,442.01 L298.27,442.35 L298.93,441.99 L299.41,439.79 L299.59,438.84 L300.24,433.79 L300.77,428.75 L300.90,427.62 L301.56,421.67 L302.14,418.04 L302.22,417.80 L302.88,416.60 L303.51,422.03 L303.53,422.42 L304.19,431.75 L304.85,443.95 L304.87,444.36 L305.51,457.10 L306.17,471.10 L306.24,472.60 L306.82,484.98 L307.48,496.63 L307.60,498.62 L308.14,506.63 L308.80,513.37 L308.97,514.73 L309.46,518.15 L310.11,521.87 L310.33,522.92 L310.77,524.83 L311.43,527.41 L311.70,528.38 L312.09,529.67 L312.75,531.62 L313.06,532.45 L313.40,533.26 L314.06,534.64 L314.43,535.38 L314.72,535.92 L315.38,537.09 L315.80,537.77 L316.03,538.12 L316.69,538.99 L317.16,539.49 L317.35,539.67 L318.01,540.16 L318.53,540.51 L318.67,540.60 L319.32,541.01 L319.89,541.33 L319.98,541.38 L320.64,541.71 L321.26,541.97 L321.30,541.98 L321.96,542.20 L322.61,542.36 L322.62,542.36 L323.27,542.45 L323.93,542.50 L323.99,542.50 L324.59,542.54 L325.25,542.59 L325.36,542.59 L325.90,542.63 L326.56,542.66 L326.72,542.67 L327.22,542.69 L327.88,542.72 L328.09,542.73 L329.45,542.78 L330.82,542.82 L332.18,542.86 L333.55,542.89 L334.92,542.92 L336.28,542.96 L337.65,543.00 L339.01,543.06 L340.38,543.12 L341.74,543.18 L343.11,543.24 L344.47,543.30 L345.84,543.36 L347.21,543.43 L348.57,543.49 L349.94,543.56 L351.30,543.63 L352.67,543.69 L354.03,543.76 L355.40,543.83 L356.77,543.91 L358.13,543.98 L359.50,544.05" fill="none" stroke="#ff0000" stroke-width="1.21" stroke-linejoin="round" stroke-linecap="round"/>
<path d="M236.87,543.95 L238.25,543.89 L239.64,543.83 L241.03,543.77 L242.41,543.71 L243.80,543.65 L245.19,543.59 L246.57,543.54 L247.96,543.48 L249.34,543.42 L250.73,543.36 L252.12,543.31 L253.50,543.25 L254.89,543.20 L256.28,543.15 L257.66,543.10 L259.05,543.05 L260.43,543.01 L261.82,542.96 L263.21,542.91 L264.59,542.84 L265.98,542.76 L267.37,542.67 L268.75,542.57 L269.07,542.54 L269.73,542.48 L270.14,542.44 L270.39,542.42 L271.05,542.35 L271.53,542.30 L271.70,542.28 L272.36,542.20 L272.91,542.13 L273.02,542.11 L273.68,542.02 L274.30,541.92 L274.34,541.92 L274.99,541.81 L275.65,541.70 L275.68,541.69 L276.31,541.55 L276.97,541.38 L277.07,541.35 L277.63,541.17 L278.28,540.93 L278.46,540.86 L278.94,540.66 L279.60,540.35 L279.84,540.23 L280.26,540.02 L280.92,539.65 L281.23,539.46 L281.57,539.25 L282.23,538.72 L282.62,538.32 L282.89,538.00 L283.55,537.18 L284.00,536.59 L284.20,536.32 L284.86,535.34 L285.39,534.37 L285.52,534.09 L286.18,532.23 L286.78,529.75 L286.84,529.48 L287.49,526.43 L288.15,522.50 L288.16,522.43 L288.81,516.03 L289.47,509.51 L289.55,508.65 L290.13,501.45 L290.78,491.51 L290.93,489.01 L291.44,479.69 L292.10,465.48 L292.32,460.07 L292.76,448.89 L293.42,435.01 L293.71,429.75 L294.07,424.61 L294.73,417.35 L295.09,416.46 L295.39,418.16 L296.05,424.84 L296.48,431.22 L296.71,434.14 L297.36,439.17 L297.87,440.80 L298.02,440.69 L298.68,439.06 L299.25,436.51 L299.34,435.98 L299.99,432.46 L300.64,431.16 L300.65,431.14 L301.31,431.70 L301.97,437.19 L302.02,437.69 L302.63,445.39 L303.28,449.45 L303.41,449.72 L303.94,453.84 L304.60,469.56 L304.80,473.76 L305.26,483.50 L305.92,495.36 L306.18,499.76 L306.57,505.56 L307.23,512.61 L307.57,515.29 L307.89,517.51 L308.55,521.31 L308.96,523.25 L309.21,524.33 L309.86,526.99 L310.34,528.74 L310.52,529.35 L311.18,531.35 L311.73,532.72 L311.84,532.95 L312.50,534.15 L313.12,535.15 L313.15,535.20 L313.81,536.15 L314.47,536.99 L314.50,537.03 L315.13,537.73 L315.78,538.39 L315.89,538.48 L316.44,538.96 L317.10,539.46 L317.27,539.58 L317.76,539.89 L318.42,540.31 L318.66,540.46 L319.07,540.71 L319.73,541.08 L320.05,541.25 L320.39,541.41 L321.05,541.70 L321.43,541.84 L321.71,541.93 L322.36,542.10 L322.82,542.17 L323.02,542.20 L323.68,542.25 L324.21,542.29 L324.34,542.29 L325.00,542.34 L325.59,542.37 L325.65,542.37 L326.31,542.41 L326.97,542.44 L326.98,542.44 L327.63,542.47 L328.37,542.49 L329.75,542.54 L331.14,542.57 L332.52,542.61 L333.91,542.64 L335.30,542.68 L336.68,542.72 L338.07,542.78 L339.46,542.84 L340.84,542.92 L342.23,542.99 L343.61,543.07 L345.00,543.16 L346.39,543.25 L347.77,543.34 L349.16,543.44 L350.55,543.54 L351.93,543.64 L353.32,543.75 L354.71,543.86 L356.09,543.98 L357.48,544.09 L358.86,544.21 L360.25,544.34" fill="none" stroke="#00e600" stroke-width="1.26" stroke-linejoin="round" stroke-linecap="round"/>
<path d="M298.35,436.21 L298.68,434.21 L299.01,432.46 L299.03,432.37 L299.34,430.92 L299.67,429.38 L299.70,429.24 L299.99,428.58 L300.32,428.85 L300.38,428.96 L300.65,429.64 L300.98,430.71 L301.06,430.97 L301.31,432.20 L301.64,434.48 L301.73,435.23 L301.97,437.21 L302.30,440.93 L302.41,442.58 L302.63,445.65 L302.96,448.45 L303.09,448.77 L303.28,449.11 L303.61,449.44 L303.76,449.56 L303.94,449.70 L304.27,450.11 L304.44,450.46 L304.60,451.06 L304.93,456.93 L305.12,461.89 L305.26,465.58 L305.59,472.75 L305.79,477.19 L305.92,479.79 L306.25,486.48 L306.47,490.58 L306.57,492.34 L306.90,497.86 L307.15,501.74 L307.23,503.02 L307.56,507.52 L307.82,510.44 L307.89,511.05 L308.22,513.86 L308.50,516.01 L308.55,516.35 L308.88,518.54 L309.18,520.30 L309.21,520.46 L309.53,522.11 L309.85,523.50 L309.86,523.54 L310.19,524.82 L310.52,526.02 L310.53,526.05 L310.85,527.12 L311.18,528.15 L311.21,528.24 L311.51,529.11 L311.84,530.00 L311.88,530.12 L312.17,530.83 L312.50,531.61 L312.56,531.77 L312.82,532.35 L313.15,533.05 L313.24,533.22 L313.48,533.71 L313.81,534.36 L313.91,534.56 L314.14,535.00 L314.47,535.62 L314.59,535.84 L314.80,536.21 L315.13,536.79 L315.27,537.02 L315.46,537.33 L315.78,537.83 L315.94,538.06 L316.11,538.30 L316.44,538.72 L316.62,538.93 L316.77,539.09 L317.10,539.42 L317.30,539.58 L317.43,539.68 L317.76,539.91 L317.97,540.06 L318.09,540.14 L318.42,540.35 L318.65,540.50 L318.75,540.56 L319.07,540.76 L319.33,540.91 L319.40,540.95 L319.73,541.13 L320.01,541.27 L320.06,541.30 L320.39,541.46 L320.68,541.58 L320.72,541.60 L321.05,541.73 L321.36,541.84 L321.38,541.85 L321.71,541.95 L322.04,542.04 L322.04,542.04 L322.36,542.11 L322.69,542.16 L322.71,542.16 L323.02,542.20 L323.35,542.22 L323.39,542.23 L323.68,542.25 L324.01,542.27 L324.07,542.28 L324.34,542.29 L324.67,542.32 L324.74,542.32 L325.00,542.34 L325.32,542.36 L325.42,542.36 L325.65,542.38 L325.98,542.39 L326.10,542.40 L326.31,542.41 L326.64,542.43 L326.77,542.43 L326.97,542.44 L327.30,542.45 L327.45,542.46 L327.63,542.47 L328.13,542.49 L328.80,542.51 L329.48,542.53 L330.16,542.55 L330.83,542.57 L331.51,542.59 L332.19,542.61 L332.86,542.62 L333.54,542.64 L334.22,542.65 L334.89,542.67 L335.57,542.69 L336.25,542.71 L336.92,542.73 L337.60,542.76 L338.28,542.79 L338.95,542.82 L339.63,542.85 L340.31,542.88 L340.98,542.91 L341.66,542.95 L342.34,542.98 L343.01,543.02 L343.69,543.05 L344.37,543.09 L345.04,543.12 L345.72,543.16 L346.40,543.20 L347.07,543.23 L347.75,543.27 L348.43,543.31 L349.10,543.35 L349.78,543.39 L350.46,543.43 L351.13,543.47 L351.81,543.51 L352.49,543.56 L353.16,543.60 L353.84,543.64 L354.52,543.68 L355.19,543.73 L355.87,543.77 L356.55,543.82 L357.22,543.86 L357.90,543.91 L358.58,543.95" fill="none" stroke="#0000ff" stroke-width="1.3" stroke-linejoin="round" stroke-linecap="round"/>
<rect x="43.95" y="31.00" width="165.90" height="160.95" fill="none" stroke="#2c2c2c" stroke-width="1.3"/>
<path d="M85.50,31.00 v3.0 M85.50,191.95 v-3.0 M126.50,31.00 v3.0 M126.50,191.95 v-3.0 M168.50,31.00 v3.0 M168.50,191.95 v-3.0 M43.95,42.50 h3.0 M209.85,42.50 h-3.0 M43.95,65.50 h3.0 M209.85,65.50 h-3.0 M43.95,88.50 h3.0 M209.85,88.50 h-3.0 M43.95,111.50 h3.0 M209.85,111.50 h-3.0 M43.95,134.50 h3.0 M209.85,134.50 h-3.0 M43.95,157.50 h3.0 M209.85,157.50 h-3.0 M43.95,180.50 h3.0 M209.85,180.50 h-3.0" stroke="#1c1c1c" stroke-width="1" fill="none"/>
<text transform="translate(41.75 44.90) scale(1 1.045)" text-anchor="end" fill="#111" stroke="#111" stroke-width="0.13" font-size="9.6">3</text>
<text transform="translate(41.75 67.89) scale(1 1.045)" text-anchor="end" fill="#111" stroke="#111" stroke-width="0.13" font-size="9.6">2</text>
<text transform="translate(41.75 90.88) scale(1 1.045)" text-anchor="end" fill="#111" stroke="#111" stroke-width="0.13" font-size="9.6">1</text>
<text transform="translate(41.75 113.88) scale(1 1.045)" text-anchor="end" fill="#111" stroke="#111" stroke-width="0.13" font-size="9.6">0</text>
<text transform="translate(41.75 136.87) scale(1 1.045)" text-anchor="end" fill="#111" stroke="#111" stroke-width="0.13" font-size="9.6">-1</text>
<text transform="translate(41.75 159.86) scale(1 1.045)" text-anchor="end" fill="#111" stroke="#111" stroke-width="0.13" font-size="9.6">-2</text>
<text transform="translate(41.75 182.85) scale(1 1.045)" text-anchor="end" fill="#111" stroke="#111" stroke-width="0.13" font-size="9.6">-3</text>
<rect x="43.95" y="197.50" width="165.90" height="160.10" fill="none" stroke="#2c2c2c" stroke-width="1.3"/>
<path d="M85.50,197.50 v3.0 M85.50,357.60 v-3.0 M126.50,197.50 v3.0 M126.50,357.60 v-3.0 M168.50,197.50 v3.0 M168.50,357.60 v-3.0 M43.95,208.50 h3.0 M209.85,208.50 h-3.0 M43.95,231.50 h3.0 M209.85,231.50 h-3.0 M43.95,254.50 h3.0 M209.85,254.50 h-3.0 M43.95,277.50 h3.0 M209.85,277.50 h-3.0 M43.95,300.50 h3.0 M209.85,300.50 h-3.0 M43.95,323.50 h3.0 M209.85,323.50 h-3.0 M43.95,346.50 h3.0 M209.85,346.50 h-3.0" stroke="#1c1c1c" stroke-width="1" fill="none"/>
<text transform="translate(41.75 211.34) scale(1 1.045)" text-anchor="end" fill="#111" stroke="#111" stroke-width="0.13" font-size="9.6">3</text>
<text transform="translate(41.75 234.21) scale(1 1.045)" text-anchor="end" fill="#111" stroke="#111" stroke-width="0.13" font-size="9.6">2</text>
<text transform="translate(41.75 257.08) scale(1 1.045)" text-anchor="end" fill="#111" stroke="#111" stroke-width="0.13" font-size="9.6">1</text>
<text transform="translate(41.75 279.95) scale(1 1.045)" text-anchor="end" fill="#111" stroke="#111" stroke-width="0.13" font-size="9.6">0</text>
<text transform="translate(41.75 302.82) scale(1 1.045)" text-anchor="end" fill="#111" stroke="#111" stroke-width="0.13" font-size="9.6">-1</text>
<text transform="translate(41.75 325.69) scale(1 1.045)" text-anchor="end" fill="#111" stroke="#111" stroke-width="0.13" font-size="9.6">-2</text>
<text transform="translate(41.75 348.56) scale(1 1.045)" text-anchor="end" fill="#111" stroke="#111" stroke-width="0.13" font-size="9.6">-3</text>
<text transform="translate(44.15 367.90) scale(1 1.045)" text-anchor="middle" fill="#111" stroke="#111" stroke-width="0.13" font-size="9.6">-1.0</text>
<text transform="translate(85.62 367.90) scale(1 1.045)" text-anchor="middle" fill="#111" stroke="#111" stroke-width="0.13" font-size="9.6">-0.5</text>
<text transform="translate(127.10 367.90) scale(1 1.045)" text-anchor="middle" fill="#111" stroke="#111" stroke-width="0.13" font-size="9.6">0.0</text>
<text transform="translate(168.57 367.90) scale(1 1.045)" text-anchor="middle" fill="#111" stroke="#111" stroke-width="0.13" font-size="9.6">0.5</text>
<rect x="43.95" y="399.00" width="165.90" height="161.00" fill="none" stroke="#2c2c2c" stroke-width="1.3"/>
<path d="M85.50,399.00 v3.0 M85.50,560.00 v-3.0 M126.50,399.00 v3.0 M126.50,560.00 v-3.0 M168.50,399.00 v3.0 M168.50,560.00 v-3.0 M43.95,439.50 h3.0 M209.85,439.50 h-3.0 M43.95,479.50 h3.0 M209.85,479.50 h-3.0 M43.95,519.50 h3.0 M209.85,519.50 h-3.0" stroke="#1c1c1c" stroke-width="1" fill="none"/>
<text transform="translate(41.75 401.40) scale(1 1.045)" text-anchor="end" fill="#111" stroke="#111" stroke-width="0.13" font-size="9.6">2</text>
<text transform="translate(41.75 441.65) scale(1 1.045)" text-anchor="end" fill="#111" stroke="#111" stroke-width="0.13" font-size="9.6">1</text>
<text transform="translate(41.75 481.90) scale(1 1.045)" text-anchor="end" fill="#111" stroke="#111" stroke-width="0.13" font-size="9.6">0</text>
<text transform="translate(41.75 522.15) scale(1 1.045)" text-anchor="end" fill="#111" stroke="#111" stroke-width="0.13" font-size="9.6">-1</text>
<text transform="translate(41.75 562.40) scale(1 1.045)" text-anchor="end" fill="#111" stroke="#111" stroke-width="0.13" font-size="9.6">-2</text>
<text transform="translate(44.15 570.30) scale(1 1.045)" text-anchor="middle" fill="#111" stroke="#111" stroke-width="0.13" font-size="9.6">-1.0</text>
<text transform="translate(85.62 570.30) scale(1 1.045)" text-anchor="middle" fill="#111" stroke="#111" stroke-width="0.13" font-size="9.6">-0.5</text>
<text transform="translate(127.10 570.30) scale(1 1.045)" text-anchor="middle" fill="#111" stroke="#111" stroke-width="0.13" font-size="9.6">0.0</text>
<text transform="translate(168.57 570.30) scale(1 1.045)" text-anchor="middle" fill="#111" stroke="#111" stroke-width="0.13" font-size="9.6">0.5</text>
<rect x="214.50" y="31.00" width="167.30" height="160.95" fill="none" stroke="#2c2c2c" stroke-width="1.3"/>
<path d="M256.50,31.00 v3.0 M256.50,191.95 v-3.0 M298.50,31.00 v3.0 M298.50,191.95 v-3.0 M340.50,31.00 v3.0 M340.50,191.95 v-3.0 M214.50,60.50 h3.0 M381.80,60.50 h-3.0 M214.50,104.50 h3.0 M381.80,104.50 h-3.0 M214.50,148.50 h3.0 M381.80,148.50 h-3.0" stroke="#1c1c1c" stroke-width="1" fill="none"/>
<text transform="translate(384.40 62.66) scale(1 1.045)" text-anchor="start" fill="#111" stroke="#111" stroke-width="0.13" font-size="9.6">9</text>
<text transform="translate(384.40 106.56) scale(1 1.045)" text-anchor="start" fill="#111" stroke="#111" stroke-width="0.13" font-size="9.6">6</text>
<text transform="translate(384.40 150.45) scale(1 1.045)" text-anchor="start" fill="#111" stroke="#111" stroke-width="0.13" font-size="9.6">3</text>
<text transform="translate(384.40 195.05) scale(1 1.045)" text-anchor="start" fill="#111" stroke="#111" stroke-width="0.13" font-size="9.6">0</text>
<rect x="214.50" y="197.50" width="167.30" height="160.10" fill="none" stroke="#2c2c2c" stroke-width="1.3"/>
<path d="M256.50,197.50 v3.0 M256.50,357.60 v-3.0 M298.50,197.50 v3.0 M298.50,357.60 v-3.0 M340.50,197.50 v3.0 M340.50,357.60 v-3.0 M214.50,226.50 h3.0 M381.80,226.50 h-3.0 M214.50,270.50 h3.0 M381.80,270.50 h-3.0 M214.50,313.50 h3.0 M381.80,313.50 h-3.0" stroke="#1c1c1c" stroke-width="1" fill="none"/>
<text transform="translate(384.40 229.01) scale(1 1.045)" text-anchor="start" fill="#111" stroke="#111" stroke-width="0.13" font-size="9.6">9</text>
<text transform="translate(384.40 272.67) scale(1 1.045)" text-anchor="start" fill="#111" stroke="#111" stroke-width="0.13" font-size="9.6">6</text>
<text transform="translate(384.40 316.34) scale(1 1.045)" text-anchor="start" fill="#111" stroke="#111" stroke-width="0.13" font-size="9.6">3</text>
<text transform="translate(384.40 360.70) scale(1 1.045)" text-anchor="start" fill="#111" stroke="#111" stroke-width="0.13" font-size="9.6">0</text>
<text transform="translate(214.70 367.90) scale(1 1.045)" text-anchor="middle" fill="#111" stroke="#111" stroke-width="0.13" font-size="9.6">-1.0</text>
<text transform="translate(256.53 367.90) scale(1 1.045)" text-anchor="middle" fill="#111" stroke="#111" stroke-width="0.13" font-size="9.6">-0.5</text>
<text transform="translate(298.35 367.90) scale(1 1.045)" text-anchor="middle" fill="#111" stroke="#111" stroke-width="0.13" font-size="9.6">0.0</text>
<text transform="translate(340.18 367.90) scale(1 1.045)" text-anchor="middle" fill="#111" stroke="#111" stroke-width="0.13" font-size="9.6">0.5</text>
<text transform="translate(382.00 367.90) scale(1 1.045)" text-anchor="middle" fill="#111" stroke="#111" stroke-width="0.13" font-size="9.6">1.0</text>
<rect x="214.50" y="399.00" width="167.30" height="161.00" fill="none" stroke="#2c2c2c" stroke-width="1.3"/>
<path d="M256.50,399.00 v3.0 M256.50,560.00 v-3.0 M298.50,399.00 v3.0 M298.50,560.00 v-3.0 M340.50,399.00 v3.0 M340.50,560.00 v-3.0 M214.50,407.50 h3.0 M381.80,407.50 h-3.0 M214.50,445.50 h3.0 M381.80,445.50 h-3.0 M214.50,483.50 h3.0 M381.80,483.50 h-3.0 M214.50,521.50 h3.0 M381.80,521.50 h-3.0" stroke="#1c1c1c" stroke-width="1" fill="none"/>
<text transform="translate(384.40 409.58) scale(1 1.045)" text-anchor="start" fill="#111" stroke="#111" stroke-width="0.13" font-size="9.6">20</text>
<text transform="translate(384.40 447.78) scale(1 1.045)" text-anchor="start" fill="#111" stroke="#111" stroke-width="0.13" font-size="9.6">15</text>
<text transform="translate(384.40 485.99) scale(1 1.045)" text-anchor="start" fill="#111" stroke="#111" stroke-width="0.13" font-size="9.6">10</text>
<text transform="translate(384.40 524.19) scale(1 1.045)" text-anchor="start" fill="#111" stroke="#111" stroke-width="0.13" font-size="9.6">5</text>
<text transform="translate(384.40 563.10) scale(1 1.045)" text-anchor="start" fill="#111" stroke="#111" stroke-width="0.13" font-size="9.6">0</text>
<text transform="translate(214.70 570.30) scale(1 1.045)" text-anchor="middle" fill="#111" stroke="#111" stroke-width="0.13" font-size="9.6">-1.0</text>
<text transform="translate(256.53 570.30) scale(1 1.045)" text-anchor="middle" fill="#111" stroke="#111" stroke-width="0.13" font-size="9.6">-0.5</text>
<text transform="translate(298.35 570.30) scale(1 1.045)" text-anchor="middle" fill="#111" stroke="#111" stroke-width="0.13" font-size="9.6">0.0</text>
<text transform="translate(340.18 570.30) scale(1 1.045)" text-anchor="middle" fill="#111" stroke="#111" stroke-width="0.13" font-size="9.6">0.5</text>
<text transform="translate(382.00 570.30) scale(1 1.045)" text-anchor="middle" fill="#111" stroke="#111" stroke-width="0.13" font-size="9.6">1.0</text>
<text transform="translate(19.00 37.70) scale(1 1.045)" text-anchor="start" fill="#111" stroke="#111" stroke-width="0.13" font-size="9.6">A</text>
<text transform="translate(16.50 204.80) scale(1 1.045)" text-anchor="start" fill="#111" stroke="#111" stroke-width="0.13" font-size="9.6">B</text>
<text transform="translate(15.50 409.30) scale(1 1.045)" text-anchor="start" fill="#111" stroke="#111" stroke-width="0.13" font-size="9.6">C</text>
<text transform="translate(400.60 37.30) scale(1 1.045)" text-anchor="start" fill="#111" stroke="#111" stroke-width="0.13" font-size="9.6">D</text>
<text transform="translate(401.60 204.30) scale(1 1.045)" text-anchor="start" fill="#111" stroke="#111" stroke-width="0.13" font-size="9.6">E</text>
<text transform="translate(401.60 409.60) scale(1 1.045)" text-anchor="start" fill="#111" stroke="#111" stroke-width="0.13" font-size="9.6">F</text>
<text transform="translate(52.00 45.40) scale(1 1.045)" text-anchor="start" fill="#111" stroke="#111" stroke-width="0.13" font-size="9.6">[110]</text>
<text transform="translate(51.00 211.90) scale(1 1.045)" text-anchor="start" fill="#111" stroke="#111" stroke-width="0.13" font-size="9.6">[100]</text>
<text transform="translate(51.00 414.70) scale(1 1.045)" text-anchor="start" fill="#111" stroke="#111" stroke-width="0.13" font-size="9.6">[111]</text>
<text transform="translate(21.90 112.20) rotate(-90) scale(1 1.045)" text-anchor="middle" fill="#111" stroke="#111" stroke-width="0.13" font-size="9.75">M (μ<tspan font-size="7.41" dy="2.2">B</tspan><tspan dy="-2.2"> Tb</tspan><tspan font-size="7.41" dy="-4.0">-1</tspan><tspan dy="4.0">)</tspan></text>
<text transform="translate(23.00 280.60) rotate(-90) scale(1 1.045)" text-anchor="middle" fill="#111" stroke="#111" stroke-width="0.13" font-size="9.75">M (μ<tspan font-size="7.41" dy="2.2">B</tspan><tspan dy="-2.2"> Tb</tspan><tspan font-size="7.41" dy="-4.0">-1</tspan><tspan dy="4.0">)</tspan></text>
<text transform="translate(22.80 480.60) rotate(-90) scale(1 1.045)" text-anchor="middle" fill="#111" stroke="#111" stroke-width="0.13" font-size="9.75">M (μ<tspan font-size="7.41" dy="2.2">B</tspan><tspan dy="-2.2"> Tb</tspan><tspan font-size="7.41" dy="-4.0">-1</tspan><tspan dy="4.0">)</tspan></text>
<text transform="translate(402.90 117.90) rotate(-90) scale(1 1.045)" text-anchor="middle" fill="#111" stroke="#111" stroke-width="0.13" font-size="9.75">dM<tspan dx="-0.7"> </tspan>d(μ<tspan font-size="7.41" dy="2.2">0</tspan><tspan dy="-2.2">H)</tspan><tspan font-size="7.41" dy="-4.0">-1</tspan></text>
<text transform="translate(402.90 283.90) rotate(-90) scale(1 1.045)" text-anchor="middle" fill="#111" stroke="#111" stroke-width="0.13" font-size="9.75">dM<tspan dx="-0.7"> </tspan>d(μ<tspan font-size="7.41" dy="2.2">0</tspan><tspan dy="-2.2">H)</tspan><tspan font-size="7.41" dy="-4.0">-1</tspan></text>
<text transform="translate(405.90 482.10) rotate(-90) scale(1 1.045)" text-anchor="middle" fill="#111" stroke="#111" stroke-width="0.13" font-size="9.75">dM<tspan dx="-0.7"> </tspan>dB<tspan font-size="7.04" dy="1.5">int</tspan><tspan font-size="7.41" dy="-5.7">-1</tspan></text>
<text transform="translate(127.10 381.00) scale(1 1.045)" text-anchor="middle" fill="#111" stroke="#111" stroke-width="0.13" font-size="9.75">μ<tspan font-size="7.41" dy="2.2">0</tspan><tspan dy="-2.2">H (T)</tspan></text>
<text transform="translate(127.10 583.00) scale(1 1.045)" text-anchor="middle" fill="#111" stroke="#111" stroke-width="0.13" font-size="9.75">B<tspan font-size="7.41" dy="2.4">int</tspan><tspan dy="-2.4"> (T)</tspan></text>
<text transform="translate(298.10 381.00) scale(1 1.045)" text-anchor="middle" fill="#111" stroke="#111" stroke-width="0.13" font-size="9.75">μ<tspan font-size="7.41" dy="2.2">0</tspan><tspan dy="-2.2">H (T)</tspan></text>
<text transform="translate(299.50 583.00) scale(1 1.045)" text-anchor="middle" fill="#111" stroke="#111" stroke-width="0.13" font-size="9.75">B<tspan font-size="7.41" dy="2.4">int</tspan><tspan dy="-2.4"> (T)</tspan></text>
<text transform="translate(173.90 154.90) scale(1 1.045)" text-anchor="end" fill="#0000ff" font-size="9.6">0T</text>
<text transform="translate(204.40 154.90) scale(1 1.045)" text-anchor="end" fill="#0000ff" font-size="9.6">1T</text>
<path d="M177.00,152.70 H184.80 M182.50,151.10 L184.80,152.70 L182.50,154.30" stroke="#3a3a3a" stroke-width="0.7" fill="none" stroke-linejoin="miter"/>
<text transform="translate(173.90 166.50) scale(1 1.045)" text-anchor="end" fill="#00e600" font-size="9.6">1T</text>
<text transform="translate(204.40 166.50) scale(1 1.045)" text-anchor="end" fill="#00e600" font-size="9.6">-1T</text>
<path d="M177.00,164.30 H184.80 M182.50,162.70 L184.80,164.30 L182.50,165.90" stroke="#3a3a3a" stroke-width="0.7" fill="none" stroke-linejoin="miter"/>
<text transform="translate(173.90 178.10) scale(1 1.045)" text-anchor="end" fill="#ff0000" font-size="9.6">-1T</text>
<text transform="translate(204.40 178.10) scale(1 1.045)" text-anchor="end" fill="#ff0000" font-size="9.6">1T</text>
<path d="M177.00,175.90 H184.80 M182.50,174.30 L184.80,175.90 L182.50,177.50" stroke="#3a3a3a" stroke-width="0.7" fill="none" stroke-linejoin="miter"/>
<text transform="translate(173.90 320.10) scale(1 1.045)" text-anchor="end" fill="#0000ff" font-size="9.6">0T</text>
<text transform="translate(204.40 320.10) scale(1 1.045)" text-anchor="end" fill="#0000ff" font-size="9.6">1T</text>
<path d="M177.00,317.90 H184.80 M182.50,316.30 L184.80,317.90 L182.50,319.50" stroke="#3a3a3a" stroke-width="0.7" fill="none" stroke-linejoin="miter"/>
<text transform="translate(173.90 331.90) scale(1 1.045)" text-anchor="end" fill="#00e600" font-size="9.6">1T</text>
<text transform="translate(204.40 331.90) scale(1 1.045)" text-anchor="end" fill="#00e600" font-size="9.6">-1T</text>
<path d="M177.00,329.70 H184.80 M182.50,328.10 L184.80,329.70 L182.50,331.30" stroke="#3a3a3a" stroke-width="0.7" fill="none" stroke-linejoin="miter"/>
<text transform="translate(173.90 343.90) scale(1 1.045)" text-anchor="end" fill="#ff0000" font-size="9.6">-1T</text>
<text transform="translate(204.40 343.90) scale(1 1.045)" text-anchor="end" fill="#ff0000" font-size="9.6">1T</text>
<path d="M177.00,341.70 H184.80 M182.50,340.10 L184.80,341.70 L182.50,343.30" stroke="#3a3a3a" stroke-width="0.7" fill="none" stroke-linejoin="miter"/>
<text transform="translate(175.40 525.70) scale(1 1.045)" text-anchor="end" fill="#0000ff" font-size="9.6">0T</text>
<text transform="translate(205.90 525.70) scale(1 1.045)" text-anchor="end" fill="#0000ff" font-size="9.6">1T</text>
<path d="M178.30,523.50 H186.30 M184.00,521.90 L186.30,523.50 L184.00,525.10" stroke="#3a3a3a" stroke-width="0.7" fill="none" stroke-linejoin="miter"/>
<text transform="translate(175.40 537.60) scale(1 1.045)" text-anchor="end" fill="#00e600" font-size="9.6">1T</text>
<text transform="translate(205.90 537.60) scale(1 1.045)" text-anchor="end" fill="#00e600" font-size="9.6">-1T</text>
<path d="M178.30,535.40 H186.30 M184.00,533.80 L186.30,535.40 L184.00,537.00" stroke="#3a3a3a" stroke-width="0.7" fill="none" stroke-linejoin="miter"/>
<text transform="translate(175.40 549.60) scale(1 1.045)" text-anchor="end" fill="#ff0000" font-size="9.6">-1T</text>
<text transform="translate(205.90 549.60) scale(1 1.045)" text-anchor="end" fill="#ff0000" font-size="9.6">1T</text>
<path d="M178.30,547.40 H186.30 M184.00,545.80 L186.30,547.40 L184.00,549.00" stroke="#3a3a3a" stroke-width="0.7" fill="none" stroke-linejoin="miter"/>
<text transform="translate(344.30 47.90) scale(1 1.045)" text-anchor="end" fill="#0000ff" font-size="9.6">0T</text>
<text transform="translate(375.20 47.90) scale(1 1.045)" text-anchor="end" fill="#0000ff" font-size="9.6">1T</text>
<path d="M347.20,45.70 H355.70 M353.40,44.10 L355.70,45.70 L353.40,47.30" stroke="#3a3a3a" stroke-width="0.7" fill="none" stroke-linejoin="miter"/>
<text transform="translate(344.30 59.60) scale(1 1.045)" text-anchor="end" fill="#00e600" font-size="9.6">1T</text>
<text transform="translate(375.20 59.60) scale(1 1.045)" text-anchor="end" fill="#00e600" font-size="9.6">-1T</text>
<path d="M347.20,57.40 H355.70 M353.40,55.80 L355.70,57.40 L353.40,59.00" stroke="#3a3a3a" stroke-width="0.7" fill="none" stroke-linejoin="miter"/>
<text transform="translate(344.30 71.10) scale(1 1.045)" text-anchor="end" fill="#ff0000" font-size="9.6">-1T</text>
<text transform="translate(375.20 71.10) scale(1 1.045)" text-anchor="end" fill="#ff0000" font-size="9.6">1T</text>
<path d="M347.20,68.90 H355.70 M353.40,67.30 L355.70,68.90 L353.40,70.50" stroke="#3a3a3a" stroke-width="0.7" fill="none" stroke-linejoin="miter"/>
<text transform="translate(343.90 214.30) scale(1 1.045)" text-anchor="end" fill="#0000ff" font-size="9.6">0T</text>
<text transform="translate(374.80 214.30) scale(1 1.045)" text-anchor="end" fill="#0000ff" font-size="9.6">1T</text>
<path d="M346.90,212.10 H355.40 M353.10,210.50 L355.40,212.10 L353.10,213.70" stroke="#3a3a3a" stroke-width="0.7" fill="none" stroke-linejoin="miter"/>
<text transform="translate(343.90 225.90) scale(1 1.045)" text-anchor="end" fill="#00e600" font-size="9.6">1T</text>
<text transform="translate(374.80 225.90) scale(1 1.045)" text-anchor="end" fill="#00e600" font-size="9.6">-1T</text>
<path d="M346.90,223.70 H355.40 M353.10,222.10 L355.40,223.70 L353.10,225.30" stroke="#3a3a3a" stroke-width="0.7" fill="none" stroke-linejoin="miter"/>
<text transform="translate(343.90 237.70) scale(1 1.045)" text-anchor="end" fill="#ff0000" font-size="9.6">-1T</text>
<text transform="translate(374.80 237.70) scale(1 1.045)" text-anchor="end" fill="#ff0000" font-size="9.6">1T</text>
<path d="M346.90,235.50 H355.40 M353.10,233.90 L355.40,235.50 L353.10,237.10" stroke="#3a3a3a" stroke-width="0.7" fill="none" stroke-linejoin="miter"/>
<text transform="translate(345.80 418.10) scale(1 1.045)" text-anchor="end" fill="#0000ff" font-size="9.6">0T</text>
<text transform="translate(375.90 418.10) scale(1 1.045)" text-anchor="end" fill="#0000ff" font-size="9.6">1T</text>
<path d="M348.70,415.90 H357.10 M354.80,414.30 L357.10,415.90 L354.80,417.50" stroke="#3a3a3a" stroke-width="0.7" fill="none" stroke-linejoin="miter"/>
<text transform="translate(345.80 430.00) scale(1 1.045)" text-anchor="end" fill="#00e600" font-size="9.6">1T</text>
<text transform="translate(375.90 430.00) scale(1 1.045)" text-anchor="end" fill="#00e600" font-size="9.6">-1T</text>
<path d="M348.70,427.80 H357.10 M354.80,426.20 L357.10,427.80 L354.80,429.40" stroke="#3a3a3a" stroke-width="0.7" fill="none" stroke-linejoin="miter"/>
<text transform="translate(345.80 442.30) scale(1 1.045)" text-anchor="end" fill="#ff0000" font-size="9.6">-1T</text>
<text transform="translate(375.90 442.30) scale(1 1.045)" text-anchor="end" fill="#ff0000" font-size="9.6">1T</text>
<path d="M348.70,440.10 H357.10 M354.80,438.50 L357.10,440.10 L354.80,441.70" stroke="#3a3a3a" stroke-width="0.7" fill="none" stroke-linejoin="miter"/>
<text transform="translate(100.40 61.30) scale(1 1.045)" text-anchor="start" fill="#111" stroke="#111" stroke-width="0.13" font-size="9.6">0.048 K</text>
<path d="M136.40,62.50 L142.55,67.50" stroke="#111" stroke-width="0.85" fill="none"/>
<path d="M145.50,69.90 L141.57,68.71 L143.53,66.30 Z" fill="#111"/>
<text transform="translate(162.80 93.90) scale(1 1.045)" text-anchor="start" fill="#111" stroke="#111" stroke-width="0.13" font-size="9.6">0.9 K</text>
<path d="M162.70,86.50 L157.84,81.83" stroke="#111" stroke-width="0.85" fill="none"/>
<path d="M155.10,79.20 L158.91,80.71 L156.77,82.95 Z" fill="#111"/>
<text transform="translate(93.20 239.40) scale(1 1.045)" text-anchor="start" fill="#111" stroke="#111" stroke-width="0.13" font-size="9.6">0.045 K</text>
<path d="M129.00,243.30 L134.09,247.56" stroke="#111" stroke-width="0.85" fill="none"/>
<path d="M137.00,250.00 L133.09,248.75 L135.08,246.37 Z" fill="#111"/>
<text transform="translate(157.30 274.40) scale(1 1.045)" text-anchor="start" fill="#111" stroke="#111" stroke-width="0.13" font-size="9.6">0.9 K</text>
<path d="M155.00,266.40 L150.44,262.33" stroke="#111" stroke-width="0.85" fill="none"/>
<path d="M147.60,259.80 L151.47,261.17 L149.40,263.49 Z" fill="#111"/>
<text transform="translate(99.80 430.70) scale(1 1.045)" text-anchor="start" fill="#111" stroke="#111" stroke-width="0.13" font-size="9.6">0.043 K</text>
<path d="M135.10,432.50 L140.19,436.76" stroke="#111" stroke-width="0.85" fill="none"/>
<path d="M143.10,439.20 L139.19,437.95 L141.18,435.57 Z" fill="#111"/>
<text transform="translate(159.60 463.90) scale(1 1.045)" text-anchor="start" fill="#111" stroke="#111" stroke-width="0.13" font-size="9.6">0.9 K</text>
<path d="M158.20,456.40 L153.52,451.85" stroke="#111" stroke-width="0.85" fill="none"/>
<path d="M150.80,449.20 L154.60,450.74 L152.44,452.96 Z" fill="#111"/>
<text transform="translate(241.80 60.40) scale(1 1.045)" text-anchor="start" fill="#111" stroke="#111" stroke-width="0.13" font-size="9.6">0.048 K</text>
<path d="M277.20,62.20 L281.76,66.57" stroke="#111" stroke-width="0.85" fill="none"/>
<path d="M284.50,69.20 L280.68,67.69 L282.83,65.45 Z" fill="#111"/>
<text transform="translate(340.80 139.50) scale(1 1.045)" text-anchor="start" fill="#111" stroke="#111" stroke-width="0.13" font-size="9.6">0.9 K</text>
<path d="M338.80,135.50 L329.60,135.50" stroke="#555" stroke-width="0.7" fill="none"/>
<path d="M325.80,135.50 L329.60,133.95 L329.60,137.05 Z" fill="#111"/>
<text transform="translate(238.10 236.90) scale(1 1.045)" text-anchor="start" fill="#111" stroke="#111" stroke-width="0.13" font-size="9.6">0.045 K</text>
<path d="M273.20,238.40 L278.06,243.07" stroke="#111" stroke-width="0.85" fill="none"/>
<path d="M280.80,245.70 L276.99,244.19 L279.13,241.95 Z" fill="#111"/>
<text transform="translate(352.20 314.60) scale(1 1.045)" text-anchor="start" fill="#111" stroke="#111" stroke-width="0.13" font-size="9.6">0.9 K</text>
<path d="M349.90,311.30 L341.60,311.30" stroke="#555" stroke-width="0.7" fill="none"/>
<path d="M337.80,311.30 L341.60,309.75 L341.60,312.85 Z" fill="#111"/>
<text transform="translate(245.00 450.00) scale(1 1.045)" text-anchor="start" fill="#111" stroke="#111" stroke-width="0.13" font-size="9.6">0.043 K</text>
<path d="M283.40,450.50 L288.10,454.83" stroke="#111" stroke-width="0.85" fill="none"/>
<path d="M290.90,457.40 L287.05,455.97 L289.15,453.69 Z" fill="#111"/>
<text transform="translate(351.60 530.90) scale(1 1.045)" text-anchor="start" fill="#111" stroke="#111" stroke-width="0.13" font-size="9.6">0.9 K</text>
<path d="M343.90,527.70 L335.30,527.70" stroke="#555" stroke-width="0.7" fill="none"/>
<path d="M331.50,527.70 L335.30,526.15 L335.30,529.25 Z" fill="#111"/>
</svg>
</body></html>
